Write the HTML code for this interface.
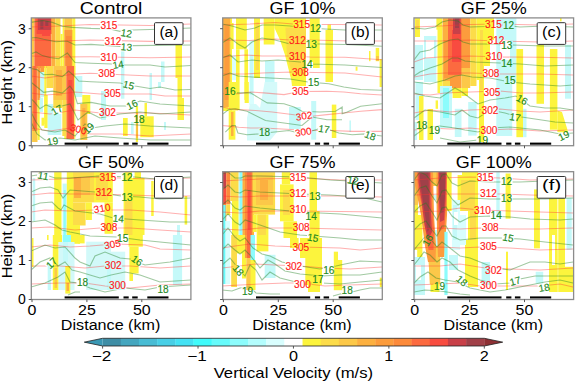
<!DOCTYPE html><html><head><meta charset="utf-8"><style>html,body{margin:0;padding:0;background:#fff;}svg{display:block;} text{font-family:"Liberation Sans", sans-serif;}</style></head><body>
<svg width="575" height="382" viewBox="0 0 575 382">
<rect x="0" y="0" width="575" height="382" fill="#fff"/>
<defs>
<filter id="fb" x="-5%" y="-5%" width="110%" height="110%"><feGaussianBlur stdDeviation="0.45"/></filter>
<clipPath id="cp0"><rect x="31.3" y="17.9" width="159.6" height="127.8"/></clipPath>
<clipPath id="cp1"><rect x="222.7" y="17.9" width="159.6" height="127.8"/></clipPath>
<clipPath id="cp2"><rect x="414.0" y="17.9" width="159.6" height="127.8"/></clipPath>
<clipPath id="cp3"><rect x="31.3" y="171.7" width="159.6" height="127.8"/></clipPath>
<clipPath id="cp4"><rect x="222.7" y="171.7" width="159.6" height="127.8"/></clipPath>
<clipPath id="cp5"><rect x="414.0" y="171.7" width="159.6" height="127.8"/></clipPath>
</defs>
<g clip-path="url(#cp0)">
<g filter="url(#fb)"><rect x="31.3" y="18.0" width="3.1" height="60.0" fill="#fcc848"/>
<rect x="31.3" y="78.0" width="1.5" height="64.0" fill="#fcf43c"/>
<rect x="34.4" y="18.0" width="16.9" height="50.0" fill="#fc6a40"/>
<rect x="36.5" y="18.0" width="15.5" height="16.0" fill="#f84c40"/>
<rect x="38.0" y="18.0" width="13.0" height="12.0" fill="#c84048"/>
<rect x="40.3" y="20.0" width="3.0" height="9.0" fill="#a04048"/>
<rect x="45.3" y="21.0" width="3.0" height="5.0" fill="#a04048"/>
<rect x="42.0" y="30.0" width="8.0" height="6.0" fill="#f84c40"/>
<rect x="51.3" y="18.0" width="4.0" height="48.0" fill="#fcb040"/>
<rect x="55.3" y="18.0" width="5.2" height="48.0" fill="#fcdc4a"/>
<rect x="60.5" y="34.0" width="2.1" height="32.0" fill="#fcf43c"/>
<rect x="62.6" y="18.0" width="1.7" height="48.0" fill="#fcf43c"/>
<rect x="64.3" y="18.0" width="8.0" height="12.0" fill="#fcc848"/>
<rect x="64.3" y="30.0" width="9.0" height="36.0" fill="#fc9c3c"/>
<rect x="66.0" y="36.0" width="5.5" height="30.0" fill="#fc8a3a"/>
<rect x="72.3" y="18.0" width="3.0" height="60.0" fill="#fcf43c"/>
<rect x="32.3" y="66.0" width="5.2" height="65.0" fill="#fc8a3a"/>
<rect x="33.5" y="66.0" width="2.7" height="62.0" fill="#fc6a40"/>
<rect x="32.3" y="131.0" width="5.2" height="11.0" fill="#fcc848"/>
<rect x="37.5" y="66.0" width="2.8" height="34.0" fill="#fc9c3c"/>
<rect x="37.5" y="100.0" width="2.2" height="40.0" fill="#fcf43c"/>
<rect x="40.3" y="66.0" width="4.0" height="6.0" fill="#fc9c3c"/>
<rect x="40.3" y="72.0" width="4.0" height="25.0" fill="#c4f9f9"/>
<rect x="39.7" y="97.7" width="3.3" height="14.3" fill="#c4f9f9"/>
<rect x="41.5" y="117.7" width="2.8" height="8.0" fill="#fcf43c"/>
<rect x="44.3" y="66.0" width="2.0" height="58.0" fill="#fcf43c"/>
<rect x="46.3" y="66.0" width="7.0" height="22.0" fill="#fcdc4a"/>
<rect x="48.3" y="88.0" width="5.0" height="16.0" fill="#ffffff"/>
<rect x="47.3" y="104.0" width="6.0" height="10.0" fill="#c4f9f9"/>
<rect x="53.3" y="66.0" width="13.0" height="34.0" fill="#fcc848"/>
<rect x="56.0" y="70.0" width="6.0" height="26.0" fill="#fcb040"/>
<rect x="53.3" y="100.0" width="9.0" height="8.0" fill="#fcdc4a"/>
<rect x="64.3" y="100.0" width="2.0" height="39.0" fill="#fcf43c"/>
<rect x="66.3" y="66.0" width="8.0" height="73.0" fill="#fc6a40"/>
<rect x="68.3" y="80.0" width="4.0" height="50.0" fill="#f84c40"/>
<rect x="74.3" y="66.0" width="1.0" height="73.0" fill="#fcf43c"/>
<rect x="75.3" y="76.0" width="7.0" height="21.0" fill="#c4f9f9"/>
<rect x="82.3" y="95.0" width="8.0" height="19.0" fill="#fcf43c"/>
<rect x="44.3" y="95.0" width="3.4" height="33.0" fill="#fcf43c"/>
<rect x="47.7" y="114.0" width="13.6" height="21.0" fill="#c4f9f9"/>
<rect x="47.7" y="105.7" width="4.6" height="8.3" fill="#c4f9f9"/>
<rect x="62.3" y="100.0" width="4.0" height="36.0" fill="#fcdc4a"/>
<rect x="80.3" y="104.0" width="7.0" height="36.0" fill="#fcc848"/>
<rect x="82.3" y="108.0" width="3.0" height="28.0" fill="#fcb040"/>
<rect x="175.5" y="45.0" width="6.5" height="33.0" fill="#fcf43c"/>
<rect x="177.5" y="78.0" width="4.5" height="20.0" fill="#fcf43c"/>
<rect x="177.5" y="98.0" width="6.5" height="22.0" fill="#fcf43c"/>
<rect x="140.3" y="116.3" width="13.4" height="20.9" fill="#fcf43c"/>
<rect x="144.5" y="103.0" width="2.5" height="13.3" fill="#fcf43c"/>
<rect x="135.8" y="106.0" width="2.3" height="36.0" fill="#fcf43c"/>
<rect x="136.3" y="113.0" width="1.5" height="25.0" fill="#fcb040"/>
<rect x="123.0" y="118.0" width="4.7" height="18.0" fill="#fcf43c"/>
<rect x="121.0" y="51.5" width="3.4" height="47.2" fill="#c4f9f9"/>
<rect x="149.5" y="73.0" width="2.5" height="27.0" fill="#c4f9f9"/>
<rect x="161.0" y="61.5" width="3.5" height="20.5" fill="#c4f9f9"/>
<rect x="158.0" y="82.0" width="3.0" height="6.0" fill="#c4f9f9"/>
<rect x="131.0" y="122.0" width="2.6" height="12.0" fill="#c4f9f9"/>
<rect x="164.0" y="122.0" width="2.0" height="8.0" fill="#c4f9f9"/>
<rect x="101.0" y="91.0" width="5.0" height="29.0" fill="#c4f9f9"/></g><mask id="ma" maskUnits="userSpaceOnUse" x="0" y="0" width="575" height="382"><rect x="0" y="0" width="575" height="382" fill="#fff"/><rect x="100.0" y="21.3" width="17.8" height="8.4" fill="#000"/><rect x="104.1" y="37.2" width="17.8" height="8.4" fill="#000"/><rect x="100.0" y="53.1" width="17.8" height="8.4" fill="#000"/><rect x="97.8" y="69.5" width="17.8" height="8.4" fill="#000"/><rect x="103.6" y="89.3" width="17.8" height="8.4" fill="#000"/><rect x="98.6" y="108.3" width="17.8" height="8.4" fill="#000"/><rect x="69.6" y="124.8" width="17.8" height="8.4" fill="#000" transform="rotate(15,78.5,129.0)"/><rect x="120.4" y="28.8" width="12.2" height="8.4" fill="#000" transform="rotate(10,126.5,33.0)"/><rect x="120.4" y="42.6" width="12.2" height="8.4" fill="#000" transform="rotate(5,126.5,46.8)"/><rect x="112.0" y="60.2" width="12.2" height="8.4" fill="#000" transform="rotate(-10,118.1,64.5)"/><rect x="122.5" y="80.8" width="12.2" height="8.4" fill="#000" transform="rotate(15,128.6,85.0)"/><rect x="125.9" y="100.3" width="12.2" height="8.4" fill="#000" transform="rotate(-25,132.0,104.5)"/><rect x="50.7" y="105.6" width="12.2" height="8.4" fill="#000" transform="rotate(-30,56.8,109.8)"/><rect x="132.9" y="114.8" width="12.2" height="8.4" fill="#000"/><rect x="46.4" y="136.8" width="12.2" height="8.4" fill="#000" transform="rotate(-10,52.5,141.0)"/><rect x="82.4" y="123.9" width="12.2" height="8.4" fill="#000" transform="rotate(-45,88.5,128.1)"/></mask><g mask="url(#ma)"><path d="M31.0,27.0 L60.0,26.0 L90.0,24.5 L150.0,25.5 L191.0,24.0" fill="none" stroke="#ff3030" stroke-opacity="0.38" stroke-width="1.1"/>
<path d="M31.0,40.0 L60.0,41.0 L90.0,40.0 L150.0,41.4 L191.0,41.0" fill="none" stroke="#ff3030" stroke-opacity="0.38" stroke-width="1.1"/>
<path d="M31.0,56.0 L60.0,57.0 L90.0,56.8 L150.0,57.7 L191.0,57.0" fill="none" stroke="#ff3030" stroke-opacity="0.38" stroke-width="1.1"/>
<path d="M31.0,76.0 L45.0,78.0 L60.0,76.0 L75.0,74.0 L90.0,73.2 L150.0,76.0 L165.0,76.0 L191.0,76.0" fill="none" stroke="#ff3030" stroke-opacity="0.38" stroke-width="1.1"/>
<path d="M31.0,93.0 L45.0,95.0 L60.0,94.0 L75.0,92.0 L100.0,94.0 L150.0,94.0 L165.0,96.0 L191.0,96.0" fill="none" stroke="#ff3030" stroke-opacity="0.38" stroke-width="1.1"/>
<path d="M31.0,112.0 L50.0,114.0 L75.0,110.0 L100.0,113.0 L150.0,113.0 L191.0,115.0" fill="none" stroke="#ff3030" stroke-opacity="0.38" stroke-width="1.1"/>
<path d="M31.0,128.0 L50.0,131.0 L70.0,128.0 L90.0,134.0 L120.0,134.0 L150.0,136.0 L191.0,134.0" fill="none" stroke="#ff3030" stroke-opacity="0.38" stroke-width="1.1"/>
<path d="M31.0,22.4 L38.5,21.1 L43.5,20.5 L52.3,22.4 L62.4,26.2 L72.4,27.4 L91.0,28.4 L110.0,29.0 L120.0,31.4 L133.0,30.0 L150.0,29.5 L191.0,28.0" fill="none" stroke="#1f7f1f" stroke-opacity="0.42" stroke-width="1.1"/>
<path d="M31.0,38.0 L36.0,37.5 L43.5,39.3 L56.0,41.8 L62.4,41.2 L67.4,41.2 L75.0,45.0 L91.0,44.4 L120.0,46.5 L133.0,45.6 L191.0,45.0" fill="none" stroke="#1f7f1f" stroke-opacity="0.42" stroke-width="1.1"/>
<path d="M31.0,53.8 L36.0,51.9 L42.3,55.6 L49.8,57.5 L58.6,58.8 L67.4,53.1 L75.0,62.5 L91.0,63.2 L112.0,64.0 L124.0,64.9 L150.0,65.0 L165.0,67.0 L191.0,65.5" fill="none" stroke="#1f7f1f" stroke-opacity="0.42" stroke-width="1.1"/>
<path d="M31.0,68.5 L37.3,69.8 L43.5,74.8 L52.3,74.2 L62.4,76.7 L68.6,71.0 L74.3,76.0 L78.7,81.0 L91.0,81.7 L120.0,83.0 L135.0,86.0 L150.0,88.5 L160.0,87.0 L175.0,90.0 L191.0,89.5" fill="none" stroke="#1f7f1f" stroke-opacity="0.42" stroke-width="1.1"/>
<path d="M31.0,82.3 L37.3,87.3 L43.5,92.3 L52.3,91.1 L62.4,93.0 L69.9,86.1 L73.7,91.1 L77.4,103.6 L91.0,102.4 L110.0,106.0 L127.0,106.0 L140.0,101.0 L160.0,104.0 L191.0,106.0" fill="none" stroke="#1f7f1f" stroke-opacity="0.42" stroke-width="1.1"/>
<path d="M31.0,98.6 L34.8,102.4 L39.8,108.7 L46.0,104.9 L52.3,107.4 L62.0,106.0 L70.0,104.0 L78.0,120.0 L88.0,112.0 L100.0,118.0 L120.0,114.0 L140.0,112.0 L160.0,114.0 L191.0,112.0" fill="none" stroke="#1f7f1f" stroke-opacity="0.42" stroke-width="1.1"/>
<path d="M31.0,112.0 L36.0,122.0 L42.0,130.0 L55.0,132.0 L65.0,130.0 L75.0,136.0 L85.0,124.0 L92.0,128.0 L105.0,126.0 L125.0,124.0 L150.0,126.0 L191.0,128.0" fill="none" stroke="#1f7f1f" stroke-opacity="0.42" stroke-width="1.1"/>
<path d="M31.0,122.0 L37.0,134.0 L45.0,140.0 L60.0,138.0 L75.0,140.0 L95.0,136.0 L120.0,138.0 L150.0,140.0 L191.0,140.0" fill="none" stroke="#1f7f1f" stroke-opacity="0.42" stroke-width="1.1"/></g><text x="108.9" y="29.2" font-size="10" text-anchor="middle" textLength="16.8" lengthAdjust="spacingAndGlyphs" fill="#ff1a1a" stroke="#ff1a1a" stroke-width="0.15">315</text>
<text x="113.0" y="45.1" font-size="10" text-anchor="middle" textLength="16.8" lengthAdjust="spacingAndGlyphs" fill="#ff1a1a" stroke="#ff1a1a" stroke-width="0.15">312</text>
<text x="108.9" y="61.1" font-size="10" text-anchor="middle" textLength="16.8" lengthAdjust="spacingAndGlyphs" fill="#ff1a1a" stroke="#ff1a1a" stroke-width="0.15">310</text>
<text x="106.7" y="77.4" font-size="10" text-anchor="middle" textLength="16.8" lengthAdjust="spacingAndGlyphs" fill="#ff1a1a" stroke="#ff1a1a" stroke-width="0.15">308</text>
<text x="112.5" y="97.2" font-size="10" text-anchor="middle" textLength="16.8" lengthAdjust="spacingAndGlyphs" fill="#ff1a1a" stroke="#ff1a1a" stroke-width="0.15">305</text>
<text x="107.5" y="116.2" font-size="10" text-anchor="middle" textLength="16.8" lengthAdjust="spacingAndGlyphs" fill="#ff1a1a" stroke="#ff1a1a" stroke-width="0.15">302</text>
<text x="78.5" y="132.7" font-size="10" text-anchor="middle" textLength="16.8" lengthAdjust="spacingAndGlyphs" fill="#ff1a1a" stroke="#ff1a1a" stroke-width="0.15" transform="rotate(15,78.5,129.0)">300</text>
<text x="126.5" y="36.8" font-size="10" text-anchor="middle" textLength="11.2" lengthAdjust="spacingAndGlyphs" fill="#1f8a1f" stroke="#1f8a1f" stroke-width="0.15" transform="rotate(10,126.5,33.0)">12</text>
<text x="126.5" y="50.5" font-size="10" text-anchor="middle" textLength="11.2" lengthAdjust="spacingAndGlyphs" fill="#1f8a1f" stroke="#1f8a1f" stroke-width="0.15" transform="rotate(5,126.5,46.8)">13</text>
<text x="118.1" y="68.2" font-size="10" text-anchor="middle" textLength="11.2" lengthAdjust="spacingAndGlyphs" fill="#1f8a1f" stroke="#1f8a1f" stroke-width="0.15" transform="rotate(-10,118.1,64.5)">14</text>
<text x="128.6" y="88.7" font-size="10" text-anchor="middle" textLength="11.2" lengthAdjust="spacingAndGlyphs" fill="#1f8a1f" stroke="#1f8a1f" stroke-width="0.15" transform="rotate(15,128.6,85.0)">15</text>
<text x="132.0" y="108.2" font-size="10" text-anchor="middle" textLength="11.2" lengthAdjust="spacingAndGlyphs" fill="#1f8a1f" stroke="#1f8a1f" stroke-width="0.15" transform="rotate(-25,132.0,104.5)">16</text>
<text x="56.8" y="113.5" font-size="10" text-anchor="middle" textLength="11.2" lengthAdjust="spacingAndGlyphs" fill="#1f8a1f" stroke="#1f8a1f" stroke-width="0.15" transform="rotate(-30,56.8,109.8)">17</text>
<text x="139.0" y="122.7" font-size="10" text-anchor="middle" textLength="11.2" lengthAdjust="spacingAndGlyphs" fill="#1f8a1f" stroke="#1f8a1f" stroke-width="0.15">18</text>
<text x="52.5" y="144.7" font-size="10" text-anchor="middle" textLength="11.2" lengthAdjust="spacingAndGlyphs" fill="#1f8a1f" stroke="#1f8a1f" stroke-width="0.15" transform="rotate(-10,52.5,141.0)">19</text>
<text x="88.5" y="131.8" font-size="10" text-anchor="middle" textLength="11.2" lengthAdjust="spacingAndGlyphs" fill="#1f8a1f" stroke="#1f8a1f" stroke-width="0.15" transform="rotate(-45,88.5,128.1)">19</text>
</g>
<g transform="translate(31.3,17.9)">
<rect x="33.3" y="124.7" width="54.2" height="2.1" fill="#000"/>
<rect x="92.2" y="124.7" width="5.2" height="2.1" fill="#000"/>
<rect x="100.9" y="124.7" width="5.5" height="2.1" fill="#000"/>
<rect x="116.0" y="124.7" width="21.2" height="2.1" fill="#000"/>
<rect x="123.2" y="4.8" width="28.5" height="21.7" rx="1" fill="#fff" stroke="#333" stroke-width="1"/>
<text x="137.6" y="18.7" font-size="14" text-anchor="middle" textLength="19" lengthAdjust="spacingAndGlyphs" fill="#000">(a)</text>
<rect x="0" y="0" width="159.6" height="127.8" fill="none" stroke="#8c8c8c" stroke-width="1.3"/>
<line x1="0.70" y1="127.8" x2="0.70" y2="130.4" stroke="#444" stroke-width="0.9"/>
<line x1="55.60" y1="127.8" x2="55.60" y2="130.4" stroke="#444" stroke-width="0.9"/>
<line x1="110.50" y1="127.8" x2="110.50" y2="130.4" stroke="#444" stroke-width="0.9"/>
<line x1="0" y1="127.80" x2="-2.6" y2="127.80" stroke="#444" stroke-width="0.9"/>
<line x1="0" y1="88.80" x2="-2.6" y2="88.80" stroke="#444" stroke-width="0.9"/>
<line x1="0" y1="49.80" x2="-2.6" y2="49.80" stroke="#444" stroke-width="0.9"/>
<line x1="0" y1="10.80" x2="-2.6" y2="10.80" stroke="#444" stroke-width="0.9"/>
<text x="79.8" y="-3.6" font-size="17.2" text-anchor="middle" textLength="62.5" lengthAdjust="spacingAndGlyphs" fill="#000">Control</text>
<text x="-9.5" y="132.80" font-size="14" text-anchor="middle" fill="#000">0</text>
<text x="-9.5" y="93.80" font-size="14" text-anchor="middle" fill="#000">1</text>
<text x="-9.5" y="54.80" font-size="14" text-anchor="middle" fill="#000">2</text>
<text x="-9.5" y="15.80" font-size="14" text-anchor="middle" fill="#000">3</text>
</g>
<g clip-path="url(#cp1)">
<g filter="url(#fb)"><rect x="222.7" y="18.0" width="8.1" height="89.0" fill="#fcb040"/>
<rect x="224.5" y="26.0" width="4.5" height="74.0" fill="#fc9c3c"/>
<rect x="222.7" y="107.0" width="6.0" height="4.0" fill="#fcf43c"/>
<rect x="230.4" y="18.0" width="1.6" height="93.0" fill="#fcf43c"/>
<rect x="232.0" y="23.0" width="1.6" height="26.0" fill="#fcf43c"/>
<rect x="236.0" y="18.0" width="10.8" height="31.3" fill="#fcf43c"/>
<rect x="236.0" y="49.3" width="3.6" height="60.7" fill="#fcf43c"/>
<rect x="244.4" y="49.3" width="3.6" height="50.7" fill="#fcf43c"/>
<rect x="232.0" y="55.0" width="4.0" height="25.0" fill="#d9fefe"/>
<rect x="249.3" y="40.0" width="4.7" height="65.0" fill="#d9fefe"/>
<rect x="250.0" y="55.0" width="3.0" height="40.0" fill="#c4f9f9"/>
<rect x="228.7" y="82.0" width="9.2" height="28.5" fill="#fcf43c"/>
<rect x="228.7" y="110.5" width="6.7" height="29.2" fill="#fcf43c"/>
<rect x="231.0" y="112.0" width="2.5" height="24.0" fill="#fcb040"/>
<rect x="254.0" y="18.0" width="6.0" height="60.0" fill="#fcf43c"/>
<rect x="255.5" y="22.0" width="3.5" height="48.0" fill="#fcdc4a"/>
<rect x="263.7" y="18.0" width="10.8" height="26.5" fill="#fcf43c"/>
<rect x="265.0" y="61.0" width="9.5" height="21.0" fill="#c4f9f9"/>
<polygon points="274.5,18 306,18 306,86 292,86 291.4,80.7 285,55 280,40 274.5,28" fill="#fcf43c"/>
<polygon points="285.4,27.6 306,27.6 306,73.4 292,73.4 287,55" fill="#fcdc4a"/>
<rect x="292.0" y="82.0" width="13.0" height="4.0" fill="#fcf43c"/>
<rect x="309.6" y="18.0" width="10.1" height="44.0" fill="#fcf43c"/>
<rect x="313.0" y="62.0" width="6.7" height="6.0" fill="#fcf43c"/>
<rect x="325.5" y="30.0" width="7.5" height="52.0" fill="#fcf43c"/>
<rect x="327.5" y="24.7" width="3.5" height="5.3" fill="#fcf43c"/>
<rect x="355.6" y="66.7" width="1.9" height="4.0" fill="#fcf43c"/>
<rect x="369.0" y="51.0" width="1.5" height="10.2" fill="#fcf43c"/>
<rect x="375.7" y="47.9" width="3.5" height="13.3" fill="#fcf43c"/>
<rect x="376.0" y="56.0" width="3.0" height="5.0" fill="#fcc848"/>
<rect x="379.6" y="59.0" width="2.7" height="28.0" fill="#fcf43c"/>
<rect x="244.6" y="82.0" width="4.2" height="21.0" fill="#fcf43c"/>
<polygon points="247,140.6 247,118 250,104 256,104 260,108 264.7,82 277.2,82 277.2,132 270,140.6" fill="#d4fafa"/>
<rect x="289.0" y="107.0" width="11.7" height="22.0" fill="#c4f9f9"/>
<rect x="311.2" y="101.0" width="5.0" height="38.7" fill="#c4f9f9"/>
<rect x="349.4" y="120.5" width="1.6" height="11.5" fill="#c4f9f9"/>
<rect x="331.8" y="104.6" width="4.5" height="33.4" fill="#fcf43c"/></g><mask id="mb" maskUnits="userSpaceOnUse" x="0" y="0" width="575" height="382"><rect x="0" y="0" width="575" height="382" fill="#fff"/><rect x="292.8" y="20.4" width="17.8" height="8.4" fill="#000"/><rect x="288.6" y="36.4" width="17.8" height="8.4" fill="#000"/><rect x="288.6" y="52.2" width="17.8" height="8.4" fill="#000"/><rect x="291.5" y="68.1" width="17.8" height="8.4" fill="#000"/><rect x="291.6" y="86.5" width="17.8" height="8.4" fill="#000"/><rect x="295.1" y="111.6" width="17.8" height="8.4" fill="#000" transform="rotate(-8,304.0,115.8)"/><rect x="294.4" y="127.6" width="17.8" height="8.4" fill="#000" transform="rotate(-8,303.2,131.8)"/><rect x="309.4" y="23.8" width="12.2" height="8.4" fill="#000"/><rect x="305.2" y="39.8" width="12.2" height="8.4" fill="#000"/><rect x="300.9" y="59.9" width="12.2" height="8.4" fill="#000"/><rect x="307.6" y="77.7" width="12.2" height="8.4" fill="#000"/><rect x="223.8" y="87.5" width="12.2" height="8.4" fill="#000"/><rect x="318.0" y="124.6" width="12.2" height="8.4" fill="#000" transform="rotate(8,324.1,128.8)"/><rect x="258.5" y="128.5" width="12.2" height="8.4" fill="#000"/><rect x="364.1" y="131.4" width="12.2" height="8.4" fill="#000" transform="rotate(20,370.2,135.6)"/></mask><g mask="url(#mb)"><path d="M222.0,25.0 L250.0,24.0 L275.0,22.5 L293.0,24.0 L310.0,24.5 L340.0,24.5 L382.0,25.0" fill="none" stroke="#ff3030" stroke-opacity="0.38" stroke-width="1.1"/>
<path d="M222.0,40.0 L250.0,40.5 L275.0,39.0 L290.0,40.0 L310.0,40.0 L350.0,41.0 L382.0,41.0" fill="none" stroke="#ff3030" stroke-opacity="0.38" stroke-width="1.1"/>
<path d="M222.0,57.0 L245.0,55.0 L262.0,56.0 L290.0,56.0 L310.0,57.0 L345.0,57.3 L382.0,59.7" fill="none" stroke="#ff3030" stroke-opacity="0.38" stroke-width="1.1"/>
<path d="M222.0,74.0 L245.0,74.0 L262.0,73.0 L292.0,72.0 L315.0,72.5 L345.0,73.0 L382.0,77.0" fill="none" stroke="#ff3030" stroke-opacity="0.38" stroke-width="1.1"/>
<path d="M222.0,93.7 L238.7,93.7 L250.5,92.0 L263.8,92.9 L284.0,94.6 L300.0,91.5 L327.0,91.2 L343.8,92.0 L360.6,93.7 L382.0,95.0" fill="none" stroke="#ff3030" stroke-opacity="0.38" stroke-width="1.1"/>
<path d="M222.0,107.0 L230.4,108.8 L238.7,109.6 L255.5,110.5 L272.2,112.0 L300.0,115.5 L312.0,116.3 L327.0,114.6 L343.8,113.0 L360.6,111.3 L382.0,109.6" fill="none" stroke="#ff3030" stroke-opacity="0.38" stroke-width="1.1"/>
<path d="M222.0,125.5 L232.0,126.4 L238.7,127.2 L250.5,128.0 L263.8,128.0 L295.6,129.7 L311.2,130.5 L332.0,130.5 L352.2,131.4 L382.0,131.4" fill="none" stroke="#ff3030" stroke-opacity="0.38" stroke-width="1.1"/>
<path d="M222.0,24.0 L232.0,26.0 L245.0,30.0 L255.0,28.0 L262.0,25.0 L275.0,25.0 L290.0,26.0 L310.0,28.0 L325.0,29.0 L345.0,30.0 L382.0,30.0" fill="none" stroke="#1f7f1f" stroke-opacity="0.42" stroke-width="1.1"/>
<path d="M222.0,43.0 L230.0,38.0 L238.0,44.0 L245.0,48.0 L252.0,42.0 L262.0,38.0 L275.0,40.0 L290.0,44.0 L306.0,44.0 L320.0,44.0 L345.0,44.5 L382.0,46.3" fill="none" stroke="#1f7f1f" stroke-opacity="0.42" stroke-width="1.1"/>
<path d="M222.0,58.0 L230.0,55.0 L238.0,62.0 L252.0,60.0 L262.0,61.0 L278.0,60.0 L300.0,62.0 L312.0,64.0 L345.0,65.0 L382.0,67.5" fill="none" stroke="#1f7f1f" stroke-opacity="0.42" stroke-width="1.1"/>
<path d="M222.0,76.0 L230.0,73.0 L238.0,76.0 L252.0,77.0 L270.0,78.0 L290.0,79.0 L308.0,82.0 L328.8,83.7 L343.8,87.0 L360.6,89.5 L382.0,90.3" fill="none" stroke="#1f7f1f" stroke-opacity="0.42" stroke-width="1.1"/>
<path d="M237.0,92.9 L250.5,92.9 L258.8,97.9 L267.2,102.9 L284.0,103.8 L294.0,107.0 L302.0,111.3 L320.0,112.0 L335.5,111.3 L342.2,107.0 L342.2,113.8 L347.2,112.0 L360.6,106.3 L382.0,103.8" fill="none" stroke="#1f7f1f" stroke-opacity="0.42" stroke-width="1.1"/>
<path d="M222.0,114.6 L228.7,109.6 L235.4,108.8 L247.0,111.3 L255.5,115.5 L265.5,120.5 L284.0,123.0 L302.0,125.5 L312.0,117.0 L327.0,119.7 L342.0,119.7" fill="none" stroke="#1f7f1f" stroke-opacity="0.42" stroke-width="1.1"/>
<path d="M225.3,132.2 L232.0,125.5 L235.4,125.5 L237.9,133.0 L247.0,134.7 L258.8,133.9 L272.2,132.2 L289.0,130.5 L302.0,134.0 L318.0,129.0 L329.6,129.7 L338.8,133.0 L352.2,134.7 L365.6,133.9 L382.0,136.0" fill="none" stroke="#1f7f1f" stroke-opacity="0.42" stroke-width="1.1"/></g><text x="301.6" y="28.3" font-size="10" text-anchor="middle" textLength="16.8" lengthAdjust="spacingAndGlyphs" fill="#ff1a1a" stroke="#ff1a1a" stroke-width="0.15">315</text>
<text x="297.4" y="44.3" font-size="10" text-anchor="middle" textLength="16.8" lengthAdjust="spacingAndGlyphs" fill="#ff1a1a" stroke="#ff1a1a" stroke-width="0.15">312</text>
<text x="297.4" y="60.1" font-size="10" text-anchor="middle" textLength="16.8" lengthAdjust="spacingAndGlyphs" fill="#ff1a1a" stroke="#ff1a1a" stroke-width="0.15">310</text>
<text x="300.4" y="76.0" font-size="10" text-anchor="middle" textLength="16.8" lengthAdjust="spacingAndGlyphs" fill="#ff1a1a" stroke="#ff1a1a" stroke-width="0.15">308</text>
<text x="300.5" y="94.5" font-size="10" text-anchor="middle" textLength="16.8" lengthAdjust="spacingAndGlyphs" fill="#ff1a1a" stroke="#ff1a1a" stroke-width="0.15">305</text>
<text x="304.0" y="119.5" font-size="10" text-anchor="middle" textLength="16.8" lengthAdjust="spacingAndGlyphs" fill="#ff1a1a" stroke="#ff1a1a" stroke-width="0.15" transform="rotate(-8,304.0,115.8)">302</text>
<text x="303.2" y="135.5" font-size="10" text-anchor="middle" textLength="16.8" lengthAdjust="spacingAndGlyphs" fill="#ff1a1a" stroke="#ff1a1a" stroke-width="0.15" transform="rotate(-8,303.2,131.8)">300</text>
<text x="315.5" y="31.7" font-size="10" text-anchor="middle" textLength="11.2" lengthAdjust="spacingAndGlyphs" fill="#1f8a1f" stroke="#1f8a1f" stroke-width="0.15">12</text>
<text x="311.3" y="47.7" font-size="10" text-anchor="middle" textLength="11.2" lengthAdjust="spacingAndGlyphs" fill="#1f8a1f" stroke="#1f8a1f" stroke-width="0.15">13</text>
<text x="307.0" y="67.8" font-size="10" text-anchor="middle" textLength="11.2" lengthAdjust="spacingAndGlyphs" fill="#1f8a1f" stroke="#1f8a1f" stroke-width="0.15">14</text>
<text x="313.7" y="85.6" font-size="10" text-anchor="middle" textLength="11.2" lengthAdjust="spacingAndGlyphs" fill="#1f8a1f" stroke="#1f8a1f" stroke-width="0.15">15</text>
<text x="229.9" y="95.4" font-size="10" text-anchor="middle" textLength="11.2" lengthAdjust="spacingAndGlyphs" fill="#1f8a1f" stroke="#1f8a1f" stroke-width="0.15">16</text>
<text x="324.1" y="132.5" font-size="10" text-anchor="middle" textLength="11.2" lengthAdjust="spacingAndGlyphs" fill="#1f8a1f" stroke="#1f8a1f" stroke-width="0.15" transform="rotate(8,324.1,128.8)">17</text>
<text x="264.6" y="136.3" font-size="10" text-anchor="middle" textLength="11.2" lengthAdjust="spacingAndGlyphs" fill="#1f8a1f" stroke="#1f8a1f" stroke-width="0.15">18</text>
<text x="370.2" y="139.2" font-size="10" text-anchor="middle" textLength="11.2" lengthAdjust="spacingAndGlyphs" fill="#1f8a1f" stroke="#1f8a1f" stroke-width="0.15" transform="rotate(20,370.2,135.6)">18</text>
</g>
<g transform="translate(222.7,17.9)">
<rect x="33.3" y="124.7" width="54.2" height="2.1" fill="#000"/>
<rect x="92.2" y="124.7" width="5.2" height="2.1" fill="#000"/>
<rect x="100.9" y="124.7" width="5.5" height="2.1" fill="#000"/>
<rect x="116.0" y="124.7" width="21.2" height="2.1" fill="#000"/>
<rect x="123.2" y="4.8" width="28.5" height="21.7" rx="1" fill="#fff" stroke="#333" stroke-width="1"/>
<text x="137.6" y="18.7" font-size="14" text-anchor="middle" textLength="19" lengthAdjust="spacingAndGlyphs" fill="#000">(b)</text>
<rect x="0" y="0" width="159.6" height="127.8" fill="none" stroke="#8c8c8c" stroke-width="1.3"/>
<line x1="0.70" y1="127.8" x2="0.70" y2="130.4" stroke="#444" stroke-width="0.9"/>
<line x1="55.60" y1="127.8" x2="55.60" y2="130.4" stroke="#444" stroke-width="0.9"/>
<line x1="110.50" y1="127.8" x2="110.50" y2="130.4" stroke="#444" stroke-width="0.9"/>
<line x1="0" y1="127.80" x2="-2.6" y2="127.80" stroke="#444" stroke-width="0.9"/>
<line x1="0" y1="88.80" x2="-2.6" y2="88.80" stroke="#444" stroke-width="0.9"/>
<line x1="0" y1="49.80" x2="-2.6" y2="49.80" stroke="#444" stroke-width="0.9"/>
<line x1="0" y1="10.80" x2="-2.6" y2="10.80" stroke="#444" stroke-width="0.9"/>
<text x="79.8" y="-3.6" font-size="17.2" text-anchor="middle" textLength="66" lengthAdjust="spacingAndGlyphs" fill="#000">GF 10%</text>
</g>
<g clip-path="url(#cp2)">
<g filter="url(#fb)"><rect x="415.0" y="18.0" width="5.0" height="19.0" fill="#fcf43c"/>
<rect x="416.0" y="20.0" width="3.0" height="10.0" fill="#fcdc4a"/>
<rect x="415.0" y="45.0" width="8.0" height="35.0" fill="#c4f9f9"/>
<rect x="424.0" y="36.0" width="12.4" height="46.0" fill="#c4f9f9"/>
<rect x="426.0" y="40.0" width="8.0" height="18.0" fill="#ffffff"/>
<rect x="415.5" y="82.0" width="7.5" height="38.0" fill="#c4f9f9"/>
<rect x="414.0" y="122.0" width="3.0" height="18.0" fill="#c4f9f9"/>
<rect x="436.4" y="18.0" width="5.9" height="11.7" fill="#fcf43c"/>
<rect x="437.5" y="26.0" width="5.1" height="67.0" fill="#fcf43c"/>
<rect x="442.6" y="18.0" width="10.0" height="63.0" fill="#fcb040"/>
<rect x="444.0" y="40.0" width="7.0" height="38.0" fill="#fc9c3c"/>
<rect x="442.6" y="81.0" width="10.0" height="12.0" fill="#fcdc4a"/>
<rect x="448.0" y="18.0" width="14.4" height="57.0" fill="#fc6a40"/>
<rect x="452.0" y="30.0" width="9.4" height="32.0" fill="#f84c40"/>
<rect x="453.0" y="18.0" width="7.5" height="16.0" fill="#c84048"/>
<rect x="455.0" y="18.0" width="4.0" height="10.0" fill="#a04048"/>
<rect x="450.0" y="75.0" width="11.4" height="13.0" fill="#fc9c3c"/>
<rect x="452.6" y="88.0" width="8.8" height="10.0" fill="#fcf43c"/>
<rect x="461.4" y="18.0" width="8.8" height="50.0" fill="#fc9c3c"/>
<rect x="461.4" y="68.0" width="8.8" height="20.0" fill="#fcc848"/>
<rect x="461.4" y="88.0" width="6.6" height="8.0" fill="#fcf43c"/>
<rect x="470.2" y="18.0" width="6.3" height="68.0" fill="#fcdc4a"/>
<rect x="476.5" y="18.0" width="2.5" height="62.0" fill="#fcf43c"/>
<rect x="479.0" y="18.0" width="5.0" height="124.0" fill="#fcf43c"/>
<rect x="480.0" y="30.0" width="3.0" height="60.0" fill="#fcdc4a"/>
<rect x="484.0" y="18.0" width="6.0" height="48.0" fill="#fcf43c"/>
<rect x="490.0" y="18.0" width="4.0" height="22.0" fill="#fcf43c"/>
<rect x="440.0" y="86.0" width="12.0" height="42.0" fill="#c4f9f9"/>
<rect x="443.0" y="88.0" width="6.0" height="30.0" fill="#8cfcfc"/>
<rect x="419.0" y="96.0" width="4.5" height="44.0" fill="#fcf43c"/>
<rect x="427.5" y="109.0" width="5.5" height="31.0" fill="#fcf43c"/>
<rect x="435.6" y="100.4" width="2.4" height="8.4" fill="#fcf43c"/>
<rect x="454.8" y="108.8" width="6.7" height="28.2" fill="#c4f9f9"/>
<rect x="468.2" y="102.0" width="8.4" height="33.6" fill="#c4f9f9"/>
<rect x="496.3" y="18.0" width="20.1" height="64.0" fill="#c4f9f9"/>
<rect x="500.0" y="40.0" width="10.0" height="20.0" fill="#ffffff"/>
<rect x="496.3" y="82.0" width="15.9" height="54.0" fill="#c4f9f9"/>
<rect x="516.4" y="49.0" width="6.7" height="88.2" fill="#fcf43c"/>
<rect x="523.1" y="108.8" width="3.4" height="28.4" fill="#c4f9f9"/>
<rect x="536.5" y="44.8" width="7.5" height="59.0" fill="#fcf43c"/>
<rect x="549.9" y="49.0" width="7.5" height="80.7" fill="#fcf43c"/>
<polygon points="557.4,110.5 562,112 566,125 568.3,132.2 557.4,132.2" fill="#fcf43c"/>
<rect x="560.0" y="18.0" width="1.6" height="3.3" fill="#fcf43c"/>
<rect x="565.0" y="44.8" width="6.0" height="53.9" fill="#c4f9f9"/></g><mask id="mc" maskUnits="userSpaceOnUse" x="0" y="0" width="575" height="382"><rect x="0" y="0" width="575" height="382" fill="#fff"/><rect x="484.6" y="20.4" width="17.8" height="8.4" fill="#000"/><rect x="487.1" y="36.0" width="17.8" height="8.4" fill="#000"/><rect x="485.1" y="52.2" width="17.8" height="8.4" fill="#000"/><rect x="482.1" y="68.8" width="17.8" height="8.4" fill="#000"/><rect x="483.1" y="88.3" width="17.8" height="8.4" fill="#000"/><rect x="481.1" y="106.3" width="17.8" height="8.4" fill="#000"/><rect x="480.1" y="125.8" width="17.8" height="8.4" fill="#000"/><rect x="502.4" y="21.3" width="12.2" height="8.4" fill="#000"/><rect x="500.7" y="41.0" width="12.2" height="8.4" fill="#000"/><rect x="500.7" y="58.5" width="12.2" height="8.4" fill="#000"/><rect x="504.0" y="76.0" width="12.2" height="8.4" fill="#000"/><rect x="516.1" y="95.4" width="12.2" height="8.4" fill="#000" transform="rotate(30,522.2,99.6)"/><rect x="509.0" y="113.0" width="12.2" height="8.4" fill="#000" transform="rotate(10,515.1,117.2)"/><rect x="415.6" y="120.9" width="12.2" height="8.4" fill="#000"/><rect x="428.2" y="126.4" width="12.2" height="8.4" fill="#000"/><rect x="476.3" y="136.1" width="12.2" height="8.4" fill="#000"/><rect x="557.6" y="131.4" width="12.2" height="8.4" fill="#000" transform="rotate(-25,563.8,135.6)"/></mask><g mask="url(#mc)"><path d="M414.0,27.0 L440.0,26.0 L470.0,24.5 L500.0,24.0 L540.0,25.0 L573.0,24.0" fill="none" stroke="#ff3030" stroke-opacity="0.38" stroke-width="1.1"/>
<path d="M414.0,41.0 L440.0,41.0 L470.0,40.0 L500.0,41.0 L540.0,42.0 L573.0,41.0" fill="none" stroke="#ff3030" stroke-opacity="0.38" stroke-width="1.1"/>
<path d="M414.0,62.0 L425.0,58.0 L440.0,57.0 L470.0,56.0 L500.0,57.0 L540.0,57.3 L573.0,58.0" fill="none" stroke="#ff3030" stroke-opacity="0.38" stroke-width="1.1"/>
<path d="M414.0,77.0 L430.0,74.0 L445.0,73.0 L470.0,73.0 L500.0,74.0 L540.0,74.0 L573.0,75.0" fill="none" stroke="#ff3030" stroke-opacity="0.38" stroke-width="1.1"/>
<path d="M414.0,94.0 L430.0,95.0 L445.0,93.0 L470.0,92.0 L500.0,91.0 L520.0,93.0 L540.0,93.0 L573.0,92.0" fill="none" stroke="#ff3030" stroke-opacity="0.38" stroke-width="1.1"/>
<path d="M414.0,113.0 L430.0,110.0 L450.0,112.0 L470.0,110.0 L500.0,109.0 L520.0,111.0 L540.0,112.0 L573.0,110.0" fill="none" stroke="#ff3030" stroke-opacity="0.38" stroke-width="1.1"/>
<path d="M414.0,130.0 L430.0,128.0 L450.0,129.0 L470.0,128.0 L490.0,130.0 L510.0,129.0 L540.0,131.0 L573.0,130.0" fill="none" stroke="#ff3030" stroke-opacity="0.38" stroke-width="1.1"/>
<path d="M414.0,28.0 L425.0,29.0 L435.0,27.0 L442.0,22.0 L450.0,20.0 L458.0,21.0 L463.0,25.0 L470.0,27.0 L485.0,26.5 L503.0,25.0 L520.0,27.0 L545.0,26.0 L573.0,27.0" fill="none" stroke="#1f7f1f" stroke-opacity="0.42" stroke-width="1.1"/>
<path d="M414.0,60.0 L420.0,52.0 L430.0,50.0 L440.0,44.0 L450.0,40.0 L458.0,39.0 L463.0,42.0 L470.0,44.0 L485.0,44.0 L512.0,45.0 L545.0,46.0 L573.0,46.0" fill="none" stroke="#1f7f1f" stroke-opacity="0.42" stroke-width="1.1"/>
<path d="M414.0,76.0 L420.0,72.0 L430.0,68.0 L442.0,64.0 L452.0,58.0 L458.0,58.0 L465.0,61.0 L475.0,62.0 L500.0,63.0 L520.0,64.0 L545.0,66.0 L573.0,65.0" fill="none" stroke="#1f7f1f" stroke-opacity="0.42" stroke-width="1.1"/>
<path d="M414.0,82.0 L430.0,84.0 L445.0,80.0 L455.0,76.0 L462.0,75.0 L472.0,77.0 L490.0,78.0 L510.0,82.0 L530.0,84.0 L560.0,86.0 L573.0,85.0" fill="none" stroke="#1f7f1f" stroke-opacity="0.42" stroke-width="1.1"/>
<path d="M414.0,93.0 L425.0,96.0 L440.0,98.0 L455.0,88.0 L462.0,92.0 L470.0,98.0 L478.0,104.0 L490.0,100.0 L505.0,98.0 L516.0,96.0 L530.0,106.0 L545.0,108.0 L560.0,108.0 L573.0,110.0" fill="none" stroke="#1f7f1f" stroke-opacity="0.42" stroke-width="1.1"/>
<path d="M414.0,118.0 L425.0,110.0 L440.0,112.0 L455.0,115.0 L462.0,110.0 L470.0,116.0 L478.0,118.0 L490.0,110.0 L505.0,113.0 L515.0,116.0 L535.0,119.0 L555.0,122.0 L573.0,123.0" fill="none" stroke="#1f7f1f" stroke-opacity="0.42" stroke-width="1.1"/>
<path d="M414.0,136.0 L425.0,128.0 L440.0,126.0 L455.0,128.0 L465.0,130.0 L478.0,132.0 L490.0,128.0 L510.0,127.0 L540.0,130.0 L560.0,134.0 L573.0,133.0" fill="none" stroke="#1f7f1f" stroke-opacity="0.42" stroke-width="1.1"/>
<path d="M440.0,138.0 L460.0,142.0 L478.0,140.0" fill="none" stroke="#1f7f1f" stroke-opacity="0.42" stroke-width="1.1"/></g><text x="493.5" y="28.3" font-size="10" text-anchor="middle" textLength="16.8" lengthAdjust="spacingAndGlyphs" fill="#ff1a1a" stroke="#ff1a1a" stroke-width="0.15">315</text>
<text x="496.0" y="43.9" font-size="10" text-anchor="middle" textLength="16.8" lengthAdjust="spacingAndGlyphs" fill="#ff1a1a" stroke="#ff1a1a" stroke-width="0.15">312</text>
<text x="494.0" y="60.1" font-size="10" text-anchor="middle" textLength="16.8" lengthAdjust="spacingAndGlyphs" fill="#ff1a1a" stroke="#ff1a1a" stroke-width="0.15">310</text>
<text x="491.0" y="76.7" font-size="10" text-anchor="middle" textLength="16.8" lengthAdjust="spacingAndGlyphs" fill="#ff1a1a" stroke="#ff1a1a" stroke-width="0.15">308</text>
<text x="492.0" y="96.2" font-size="10" text-anchor="middle" textLength="16.8" lengthAdjust="spacingAndGlyphs" fill="#ff1a1a" stroke="#ff1a1a" stroke-width="0.15">305</text>
<text x="490.0" y="114.2" font-size="10" text-anchor="middle" textLength="16.8" lengthAdjust="spacingAndGlyphs" fill="#ff1a1a" stroke="#ff1a1a" stroke-width="0.15">302</text>
<text x="489.0" y="133.7" font-size="10" text-anchor="middle" textLength="16.8" lengthAdjust="spacingAndGlyphs" fill="#ff1a1a" stroke="#ff1a1a" stroke-width="0.15">300</text>
<text x="508.5" y="29.2" font-size="10" text-anchor="middle" textLength="11.2" lengthAdjust="spacingAndGlyphs" fill="#1f8a1f" stroke="#1f8a1f" stroke-width="0.15">12</text>
<text x="506.8" y="48.9" font-size="10" text-anchor="middle" textLength="11.2" lengthAdjust="spacingAndGlyphs" fill="#1f8a1f" stroke="#1f8a1f" stroke-width="0.15">13</text>
<text x="506.8" y="66.5" font-size="10" text-anchor="middle" textLength="11.2" lengthAdjust="spacingAndGlyphs" fill="#1f8a1f" stroke="#1f8a1f" stroke-width="0.15">14</text>
<text x="510.1" y="84.0" font-size="10" text-anchor="middle" textLength="11.2" lengthAdjust="spacingAndGlyphs" fill="#1f8a1f" stroke="#1f8a1f" stroke-width="0.15">15</text>
<text x="522.2" y="103.3" font-size="10" text-anchor="middle" textLength="11.2" lengthAdjust="spacingAndGlyphs" fill="#1f8a1f" stroke="#1f8a1f" stroke-width="0.15" transform="rotate(30,522.2,99.6)">16</text>
<text x="515.1" y="120.9" font-size="10" text-anchor="middle" textLength="11.2" lengthAdjust="spacingAndGlyphs" fill="#1f8a1f" stroke="#1f8a1f" stroke-width="0.15" transform="rotate(10,515.1,117.2)">17</text>
<text x="421.8" y="128.8" font-size="10" text-anchor="middle" textLength="11.2" lengthAdjust="spacingAndGlyphs" fill="#1f8a1f" stroke="#1f8a1f" stroke-width="0.15">18</text>
<text x="434.4" y="134.2" font-size="10" text-anchor="middle" textLength="11.2" lengthAdjust="spacingAndGlyphs" fill="#1f8a1f" stroke="#1f8a1f" stroke-width="0.15">19</text>
<text x="482.4" y="143.9" font-size="10" text-anchor="middle" textLength="11.2" lengthAdjust="spacingAndGlyphs" fill="#1f8a1f" stroke="#1f8a1f" stroke-width="0.15">19</text>
<text x="563.8" y="139.2" font-size="10" text-anchor="middle" textLength="11.2" lengthAdjust="spacingAndGlyphs" fill="#1f8a1f" stroke="#1f8a1f" stroke-width="0.15" transform="rotate(-25,563.8,135.6)">19</text>
</g>
<g transform="translate(414.0,17.9)">
<rect x="33.3" y="124.7" width="54.2" height="2.1" fill="#000"/>
<rect x="92.2" y="124.7" width="5.2" height="2.1" fill="#000"/>
<rect x="100.9" y="124.7" width="5.5" height="2.1" fill="#000"/>
<rect x="116.0" y="124.7" width="21.2" height="2.1" fill="#000"/>
<rect x="123.2" y="4.8" width="28.5" height="21.7" rx="1" fill="#fff" stroke="#333" stroke-width="1"/>
<text x="137.6" y="18.7" font-size="14" text-anchor="middle" textLength="19" lengthAdjust="spacingAndGlyphs" fill="#000">(c)</text>
<rect x="0" y="0" width="159.6" height="127.8" fill="none" stroke="#8c8c8c" stroke-width="1.3"/>
<line x1="0.70" y1="127.8" x2="0.70" y2="130.4" stroke="#444" stroke-width="0.9"/>
<line x1="55.60" y1="127.8" x2="55.60" y2="130.4" stroke="#444" stroke-width="0.9"/>
<line x1="110.50" y1="127.8" x2="110.50" y2="130.4" stroke="#444" stroke-width="0.9"/>
<line x1="0" y1="127.80" x2="-2.6" y2="127.80" stroke="#444" stroke-width="0.9"/>
<line x1="0" y1="88.80" x2="-2.6" y2="88.80" stroke="#444" stroke-width="0.9"/>
<line x1="0" y1="49.80" x2="-2.6" y2="49.80" stroke="#444" stroke-width="0.9"/>
<line x1="0" y1="10.80" x2="-2.6" y2="10.80" stroke="#444" stroke-width="0.9"/>
<text x="79.8" y="-3.6" font-size="17.2" text-anchor="middle" textLength="66" lengthAdjust="spacingAndGlyphs" fill="#000">GF 25%</text>
</g>
<g clip-path="url(#cp3)">
<g filter="url(#fb)"><rect x="32.7" y="178.0" width="2.5" height="43.0" fill="#c4f9f9"/>
<rect x="31.3" y="238.0" width="2.2" height="29.0" fill="#fcf43c"/>
<rect x="54.2" y="171.7" width="7.3" height="63.3" fill="#fcf43c"/>
<rect x="62.6" y="183.6" width="4.2" height="67.4" fill="#c4f9f9"/>
<rect x="63.6" y="190.0" width="2.2" height="55.0" fill="#8cfcfc"/>
<rect x="66.8" y="171.7" width="6.2" height="62.1" fill="#fcf43c"/>
<rect x="73.0" y="171.7" width="21.0" height="30.7" fill="#fcdc4a"/>
<rect x="73.0" y="202.4" width="12.6" height="23.1" fill="#fcdc4a"/>
<rect x="74.0" y="177.0" width="7.0" height="21.0" fill="#fcb040"/>
<rect x="81.0" y="177.0" width="9.0" height="18.0" fill="#fcc848"/>
<rect x="85.6" y="202.4" width="6.3" height="17.6" fill="#fcf43c"/>
<rect x="94.0" y="171.7" width="18.8" height="30.7" fill="#fcf43c"/>
<rect x="96.0" y="175.0" width="12.0" height="25.0" fill="#fcdc4a"/>
<rect x="104.5" y="202.4" width="8.3" height="31.4" fill="#fcf43c"/>
<rect x="66.8" y="225.0" width="13.2" height="18.8" fill="#fcf43c"/>
<rect x="123.6" y="178.0" width="20.9" height="57.0" fill="#fcf43c"/>
<rect x="124.4" y="171.7" width="7.6" height="6.3" fill="#fcf43c"/>
<rect x="134.6" y="171.7" width="6.4" height="6.3" fill="#fcf43c"/>
<rect x="125.0" y="201.0" width="7.5" height="34.0" fill="#fcdc4a"/>
<rect x="151.2" y="181.0" width="2.5" height="35.0" fill="#fcf43c"/>
<rect x="184.6" y="196.0" width="2.6" height="28.6" fill="#fcf43c"/>
<rect x="47.0" y="235.0" width="1.6" height="5.0" fill="#fcf43c"/>
<rect x="52.8" y="235.0" width="5.8" height="55.0" fill="#fcf43c"/>
<rect x="54.5" y="268.0" width="2.5" height="20.0" fill="#fcc848"/>
<rect x="57.8" y="235.0" width="4.2" height="7.0" fill="#fcf43c"/>
<rect x="58.6" y="242.0" width="15.9" height="48.0" fill="#d2f9f9"/>
<rect x="63.0" y="242.0" width="5.0" height="20.0" fill="#c4f9f9"/>
<rect x="62.8" y="235.0" width="8.2" height="7.0" fill="#8cfcfc"/>
<rect x="65.3" y="266.0" width="5.0" height="27.6" fill="#fcf43c"/>
<rect x="66.5" y="283.0" width="2.5" height="8.0" fill="#fcb040"/>
<rect x="77.9" y="235.0" width="6.7" height="8.4" fill="#fcf43c"/>
<rect x="86.2" y="241.7" width="24.8" height="48.3" fill="#d2f9f9"/>
<rect x="107.0" y="262.0" width="7.6" height="28.0" fill="#c4f9f9"/>
<rect x="47.7" y="265.0" width="3.3" height="25.0" fill="#c4f9f9"/>
<rect x="111.0" y="251.7" width="14.2" height="38.3" fill="#d2f9f9"/>
<rect x="128.6" y="235.0" width="14.2" height="11.7" fill="#fcf43c"/>
<rect x="129.4" y="246.7" width="9.2" height="26.8" fill="#fcf43c"/>
<rect x="129.4" y="273.5" width="3.6" height="7.5" fill="#fcf43c"/>
<rect x="172.9" y="235.0" width="9.2" height="50.0" fill="#c4f9f9"/>
<rect x="177.0" y="225.0" width="3.0" height="10.0" fill="#c4f9f9"/></g><mask id="md" maskUnits="userSpaceOnUse" x="0" y="0" width="575" height="382"><rect x="0" y="0" width="575" height="382" fill="#fff"/><rect x="99.2" y="173.0" width="17.8" height="8.4" fill="#000"/><rect x="94.9" y="188.6" width="17.8" height="8.4" fill="#000"/><rect x="93.2" y="204.1" width="17.8" height="8.4" fill="#000" transform="rotate(-10,102.0,208.2)"/><rect x="100.0" y="223.1" width="17.8" height="8.4" fill="#000"/><rect x="103.5" y="240.0" width="17.8" height="8.4" fill="#000" transform="rotate(-10,112.4,244.2)"/><rect x="104.3" y="261.1" width="17.8" height="8.4" fill="#000"/><rect x="108.6" y="281.6" width="17.8" height="8.4" fill="#000"/><rect x="37.1" y="171.4" width="12.2" height="8.4" fill="#000" transform="rotate(10,43.2,175.6)"/><rect x="120.9" y="173.0" width="12.2" height="8.4" fill="#000"/><rect x="120.9" y="193.6" width="12.2" height="8.4" fill="#000"/><rect x="112.3" y="214.1" width="12.2" height="8.4" fill="#000" transform="rotate(5,118.4,218.3)"/><rect x="116.6" y="234.1" width="12.2" height="8.4" fill="#000"/><rect x="131.1" y="256.3" width="12.2" height="8.4" fill="#000" transform="rotate(35,137.2,260.5)"/><rect x="45.4" y="258.8" width="12.2" height="8.4" fill="#000" transform="rotate(-45,51.5,263.0)"/><rect x="76.4" y="278.1" width="12.2" height="8.4" fill="#000"/><rect x="156.9" y="284.8" width="12.2" height="8.4" fill="#000"/></mask><g mask="url(#md)"><path d="M31.0,180.0 L60.0,179.0 L90.0,177.0 L120.0,178.0 L150.0,179.0 L191.0,178.0" fill="none" stroke="#ff3030" stroke-opacity="0.38" stroke-width="1.1"/>
<path d="M31.0,195.0 L50.0,193.0 L70.0,194.0 L95.0,194.0 L130.0,195.0 L160.0,196.0 L191.0,196.0" fill="none" stroke="#ff3030" stroke-opacity="0.38" stroke-width="1.1"/>
<path d="M31.0,212.0 L45.0,210.0 L70.0,211.0 L95.0,210.0 L130.0,210.0 L160.0,212.0 L191.0,215.0" fill="none" stroke="#ff3030" stroke-opacity="0.38" stroke-width="1.1"/>
<path d="M31.0,228.0 L50.0,227.0 L75.0,230.0 L100.0,228.0 L130.0,228.0 L160.0,230.0 L191.0,232.0" fill="none" stroke="#ff3030" stroke-opacity="0.38" stroke-width="1.1"/>
<path d="M31.0,247.0 L50.0,245.0 L70.0,247.0 L90.0,246.0 L115.0,244.0 L145.0,245.0 L160.0,249.0 L191.0,250.0" fill="none" stroke="#ff3030" stroke-opacity="0.38" stroke-width="1.1"/>
<path d="M31.0,266.0 L60.0,266.0 L85.0,268.0 L105.0,266.0 L130.0,266.0 L160.0,268.0 L191.0,266.0" fill="none" stroke="#ff3030" stroke-opacity="0.38" stroke-width="1.1"/>
<path d="M31.0,284.0 L60.0,283.0 L85.0,283.0 L105.0,286.0 L130.0,288.0 L160.0,285.0 L191.0,284.0" fill="none" stroke="#ff3030" stroke-opacity="0.38" stroke-width="1.1"/>
<path d="M31.0,176.0 L37.0,175.0 L49.0,176.0 L55.0,178.0 L70.0,178.0 L100.0,176.0 L135.0,177.0 L155.0,179.0 L191.0,177.0" fill="none" stroke="#1f7f1f" stroke-opacity="0.42" stroke-width="1.1"/>
<path d="M31.0,192.0 L40.0,188.0 L50.0,187.0 L58.0,190.0 L63.0,198.0 L70.0,190.0 L95.0,192.0 L121.0,196.0 L140.0,197.0 L160.0,199.0 L191.0,198.0" fill="none" stroke="#1f7f1f" stroke-opacity="0.42" stroke-width="1.1"/>
<path d="M31.0,206.0 L40.0,203.0 L52.0,202.0 L58.0,208.0 L61.0,210.0 L64.0,205.0 L75.0,211.0 L100.0,214.0 L113.0,218.0 L140.0,220.0 L170.0,222.0 L191.0,222.0" fill="none" stroke="#1f7f1f" stroke-opacity="0.42" stroke-width="1.1"/>
<path d="M31.0,222.0 L45.0,220.0 L55.0,225.0 L62.0,230.0 L70.0,232.0 L90.0,236.0 L117.0,237.0 L140.0,240.0 L170.0,243.0 L191.0,245.0" fill="none" stroke="#1f7f1f" stroke-opacity="0.42" stroke-width="1.1"/>
<path d="M31.0,251.0 L45.0,245.0 L55.0,248.0 L65.0,247.0 L75.0,258.0 L80.0,262.0 L90.0,266.0 L95.0,256.0 L105.0,252.0 L120.0,258.0 L130.0,259.0 L145.0,265.0 L170.0,262.0 L191.0,258.0" fill="none" stroke="#1f7f1f" stroke-opacity="0.42" stroke-width="1.1"/>
<path d="M31.0,270.0 L40.0,262.0 L50.0,258.0 L58.0,266.0 L65.0,262.0 L72.0,270.0 L80.0,272.0 L90.0,275.0 L100.0,278.0 L111.0,275.0 L125.0,272.0 L140.0,275.0 L160.0,282.0 L191.0,280.0" fill="none" stroke="#1f7f1f" stroke-opacity="0.42" stroke-width="1.1"/>
<path d="M31.0,287.0 L45.0,283.0 L58.0,277.0 L65.0,272.0 L70.0,282.0 L78.0,283.0 L90.0,288.0 L105.0,292.0 L125.0,288.0 L145.0,290.0 L160.0,287.0 L191.0,285.0" fill="none" stroke="#1f7f1f" stroke-opacity="0.42" stroke-width="1.1"/>
<path d="M68.0,295.0 L75.0,292.0 L80.0,292.0" fill="none" stroke="#1f7f1f" stroke-opacity="0.42" stroke-width="1.1"/></g><text x="108.0" y="180.9" font-size="10" text-anchor="middle" textLength="16.8" lengthAdjust="spacingAndGlyphs" fill="#ff1a1a" stroke="#ff1a1a" stroke-width="0.15">315</text>
<text x="103.8" y="196.4" font-size="10" text-anchor="middle" textLength="16.8" lengthAdjust="spacingAndGlyphs" fill="#ff1a1a" stroke="#ff1a1a" stroke-width="0.15">312</text>
<text x="102.0" y="211.9" font-size="10" text-anchor="middle" textLength="16.8" lengthAdjust="spacingAndGlyphs" fill="#ff1a1a" stroke="#ff1a1a" stroke-width="0.15" transform="rotate(-10,102.0,208.2)">310</text>
<text x="108.9" y="230.9" font-size="10" text-anchor="middle" textLength="16.8" lengthAdjust="spacingAndGlyphs" fill="#ff1a1a" stroke="#ff1a1a" stroke-width="0.15">308</text>
<text x="112.4" y="247.8" font-size="10" text-anchor="middle" textLength="16.8" lengthAdjust="spacingAndGlyphs" fill="#ff1a1a" stroke="#ff1a1a" stroke-width="0.15" transform="rotate(-10,112.4,244.2)">305</text>
<text x="113.2" y="268.9" font-size="10" text-anchor="middle" textLength="16.8" lengthAdjust="spacingAndGlyphs" fill="#ff1a1a" stroke="#ff1a1a" stroke-width="0.15">302</text>
<text x="117.5" y="289.4" font-size="10" text-anchor="middle" textLength="16.8" lengthAdjust="spacingAndGlyphs" fill="#ff1a1a" stroke="#ff1a1a" stroke-width="0.15">300</text>
<text x="43.2" y="179.3" font-size="10" text-anchor="middle" textLength="11.2" lengthAdjust="spacingAndGlyphs" fill="#1f8a1f" stroke="#1f8a1f" stroke-width="0.15" transform="rotate(10,43.2,175.6)">11</text>
<text x="127.0" y="180.9" font-size="10" text-anchor="middle" textLength="11.2" lengthAdjust="spacingAndGlyphs" fill="#1f8a1f" stroke="#1f8a1f" stroke-width="0.15">12</text>
<text x="127.0" y="201.4" font-size="10" text-anchor="middle" textLength="11.2" lengthAdjust="spacingAndGlyphs" fill="#1f8a1f" stroke="#1f8a1f" stroke-width="0.15">13</text>
<text x="118.4" y="222.0" font-size="10" text-anchor="middle" textLength="11.2" lengthAdjust="spacingAndGlyphs" fill="#1f8a1f" stroke="#1f8a1f" stroke-width="0.15" transform="rotate(5,118.4,218.3)">14</text>
<text x="122.7" y="241.9" font-size="10" text-anchor="middle" textLength="11.2" lengthAdjust="spacingAndGlyphs" fill="#1f8a1f" stroke="#1f8a1f" stroke-width="0.15">15</text>
<text x="137.2" y="264.2" font-size="10" text-anchor="middle" textLength="11.2" lengthAdjust="spacingAndGlyphs" fill="#1f8a1f" stroke="#1f8a1f" stroke-width="0.15" transform="rotate(35,137.2,260.5)">16</text>
<text x="51.5" y="266.7" font-size="10" text-anchor="middle" textLength="11.2" lengthAdjust="spacingAndGlyphs" fill="#1f8a1f" stroke="#1f8a1f" stroke-width="0.15" transform="rotate(-45,51.5,263.0)">17</text>
<text x="82.5" y="285.9" font-size="10" text-anchor="middle" textLength="11.2" lengthAdjust="spacingAndGlyphs" fill="#1f8a1f" stroke="#1f8a1f" stroke-width="0.15">18</text>
<text x="163.0" y="292.7" font-size="10" text-anchor="middle" textLength="11.2" lengthAdjust="spacingAndGlyphs" fill="#1f8a1f" stroke="#1f8a1f" stroke-width="0.15">18</text>
</g>
<g transform="translate(31.3,171.7)">
<rect x="33.3" y="124.7" width="54.2" height="2.1" fill="#000"/>
<rect x="92.2" y="124.7" width="5.2" height="2.1" fill="#000"/>
<rect x="100.9" y="124.7" width="5.5" height="2.1" fill="#000"/>
<rect x="116.0" y="124.7" width="21.2" height="2.1" fill="#000"/>
<rect x="123.2" y="4.8" width="28.5" height="21.7" rx="1" fill="#fff" stroke="#333" stroke-width="1"/>
<text x="137.6" y="18.7" font-size="14" text-anchor="middle" textLength="19" lengthAdjust="spacingAndGlyphs" fill="#000">(d)</text>
<rect x="0" y="0" width="159.6" height="127.8" fill="none" stroke="#8c8c8c" stroke-width="1.3"/>
<line x1="0.70" y1="127.8" x2="0.70" y2="130.4" stroke="#444" stroke-width="0.9"/>
<line x1="55.60" y1="127.8" x2="55.60" y2="130.4" stroke="#444" stroke-width="0.9"/>
<line x1="110.50" y1="127.8" x2="110.50" y2="130.4" stroke="#444" stroke-width="0.9"/>
<line x1="0" y1="127.80" x2="-2.6" y2="127.80" stroke="#444" stroke-width="0.9"/>
<line x1="0" y1="88.80" x2="-2.6" y2="88.80" stroke="#444" stroke-width="0.9"/>
<line x1="0" y1="49.80" x2="-2.6" y2="49.80" stroke="#444" stroke-width="0.9"/>
<line x1="0" y1="10.80" x2="-2.6" y2="10.80" stroke="#444" stroke-width="0.9"/>
<text x="79.8" y="-3.6" font-size="17.2" text-anchor="middle" textLength="66" lengthAdjust="spacingAndGlyphs" fill="#000">GF 50%</text>
<text x="-9.5" y="132.80" font-size="14" text-anchor="middle" fill="#000">0</text>
<text x="-9.5" y="93.80" font-size="14" text-anchor="middle" fill="#000">1</text>
<text x="-9.5" y="54.80" font-size="14" text-anchor="middle" fill="#000">2</text>
<text x="-9.5" y="15.80" font-size="14" text-anchor="middle" fill="#000">3</text>
<text x="0.70" y="143.20" font-size="14.3" text-anchor="middle" textLength="8.9" lengthAdjust="spacingAndGlyphs" fill="#000">0</text>
<text x="55.60" y="143.20" font-size="14.3" text-anchor="middle" textLength="17.8" lengthAdjust="spacingAndGlyphs" fill="#000">25</text>
<text x="110.50" y="143.20" font-size="14.3" text-anchor="middle" textLength="17.8" lengthAdjust="spacingAndGlyphs" fill="#000">50</text>
<text x="79.3" y="158.70" font-size="14" text-anchor="middle" textLength="99.5" lengthAdjust="spacingAndGlyphs" fill="#000">Distance (km)</text>
</g>
<g clip-path="url(#cp4)">
<g filter="url(#fb)"><rect x="222.7" y="171.7" width="3.5" height="16.3" fill="#c84048"/>
<rect x="222.7" y="188.0" width="3.5" height="16.0" fill="#f84c40"/>
<rect x="222.7" y="204.0" width="3.5" height="17.0" fill="#fc8a3a"/>
<rect x="226.2" y="171.7" width="4.2" height="32.8" fill="#fc8a3a"/>
<rect x="226.2" y="204.5" width="4.2" height="10.5" fill="#fcdc4a"/>
<rect x="222.7" y="205.0" width="2.9" height="79.0" fill="#66fbfb"/>
<rect x="225.6" y="221.0" width="4.4" height="63.0" fill="#d9fefe"/>
<rect x="230.4" y="171.7" width="8.3" height="29.3" fill="#fcdc4a"/>
<rect x="230.4" y="201.0" width="1.6" height="13.0" fill="#ffffff"/>
<rect x="232.0" y="201.0" width="6.7" height="34.0" fill="#fcf43c"/>
<rect x="231.2" y="235.0" width="5.8" height="52.0" fill="#fcdc4a"/>
<rect x="237.0" y="235.0" width="5.0" height="18.4" fill="#fcf43c"/>
<rect x="238.7" y="171.7" width="5.1" height="63.3" fill="#c4f9f9"/>
<rect x="239.8" y="171.7" width="2.7" height="63.3" fill="#8cfcfc"/>
<rect x="242.0" y="235.0" width="4.3" height="43.5" fill="#fcf43c"/>
<rect x="242.5" y="171.7" width="11.5" height="63.3" fill="#fcb040"/>
<rect x="245.0" y="171.7" width="7.0" height="63.3" fill="#fc8a3a"/>
<rect x="247.0" y="171.7" width="4.5" height="63.3" fill="#fc6a40"/>
<rect x="248.0" y="190.0" width="2.5" height="40.0" fill="#f84c40"/>
<rect x="245.0" y="235.0" width="7.0" height="23.0" fill="#fc9c3c"/>
<rect x="247.0" y="235.0" width="4.5" height="23.0" fill="#fc6a40"/>
<rect x="246.3" y="258.0" width="5.2" height="32.0" fill="#fcc848"/>
<rect x="250.5" y="260.0" width="5.0" height="30.0" fill="#fcf43c"/>
<rect x="250.5" y="235.0" width="4.5" height="25.0" fill="#8cfcfc"/>
<rect x="253.0" y="171.7" width="22.1" height="42.9" fill="#fcdc4a"/>
<rect x="256.0" y="175.0" width="17.0" height="30.0" fill="#fcc848"/>
<rect x="260.0" y="180.0" width="8.0" height="20.0" fill="#fcb040"/>
<rect x="256.7" y="214.6" width="11.7" height="36.8" fill="#fcf43c"/>
<rect x="258.0" y="214.6" width="8.0" height="20.4" fill="#fcdc4a"/>
<rect x="253.0" y="214.6" width="3.7" height="17.4" fill="#fcf43c"/>
<rect x="281.8" y="171.7" width="8.4" height="12.7" fill="#fcf43c"/>
<rect x="280.0" y="184.4" width="13.6" height="36.9" fill="#fcf43c"/>
<rect x="283.0" y="190.0" width="7.0" height="25.0" fill="#fcdc4a"/>
<rect x="283.5" y="221.3" width="13.5" height="16.7" fill="#fcf43c"/>
<rect x="290.0" y="238.0" width="8.6" height="10.0" fill="#fcf43c"/>
<rect x="309.5" y="171.7" width="7.5" height="66.3" fill="#fcf43c"/>
<rect x="307.0" y="238.0" width="10.0" height="13.0" fill="#fcf43c"/>
<rect x="317.0" y="211.0" width="2.6" height="29.0" fill="#fcf43c"/>
<rect x="300.0" y="238.0" width="22.0" height="20.0" fill="#fcf43c"/>
<rect x="305.3" y="258.0" width="16.7" height="27.0" fill="#fcf43c"/>
<rect x="308.0" y="285.0" width="12.0" height="7.0" fill="#fcf43c"/>
<rect x="264.7" y="254.8" width="10.8" height="23.2" fill="#c4f9f9"/>
<rect x="333.8" y="260.0" width="8.4" height="30.2" fill="#fcf43c"/>
<rect x="333.8" y="251.7" width="4.2" height="8.3" fill="#fcf43c"/>
<rect x="379.8" y="277.7" width="2.5" height="9.3" fill="#fcf43c"/></g><mask id="me" maskUnits="userSpaceOnUse" x="0" y="0" width="575" height="382"><rect x="0" y="0" width="575" height="382" fill="#fff"/><rect x="289.1" y="173.6" width="17.8" height="8.4" fill="#000"/><rect x="289.1" y="189.6" width="17.8" height="8.4" fill="#000"/><rect x="289.1" y="205.1" width="17.8" height="8.4" fill="#000"/><rect x="292.4" y="223.6" width="17.8" height="8.4" fill="#000"/><rect x="291.9" y="243.4" width="17.8" height="8.4" fill="#000"/><rect x="284.9" y="262.2" width="17.8" height="8.4" fill="#000"/><rect x="293.6" y="279.7" width="17.8" height="8.4" fill="#000"/><rect x="308.8" y="192.4" width="12.2" height="8.4" fill="#000"/><rect x="305.1" y="212.4" width="12.2" height="8.4" fill="#000"/><rect x="306.8" y="233.6" width="12.2" height="8.4" fill="#000" transform="rotate(10,312.9,237.8)"/><rect x="322.7" y="266.4" width="12.2" height="8.4" fill="#000"/><rect x="311.8" y="275.6" width="12.2" height="8.4" fill="#000"/><rect x="341.1" y="285.6" width="12.2" height="8.4" fill="#000"/><rect x="232.3" y="265.9" width="12.2" height="8.4" fill="#000" transform="rotate(50,238.4,270.1)"/><rect x="241.4" y="287.3" width="12.2" height="8.4" fill="#000"/></mask><g mask="url(#me)"><path d="M222.0,181.0 L240.0,180.0 L260.0,179.0 L300.0,178.0 L340.0,180.0 L382.0,180.0" fill="none" stroke="#ff3030" stroke-opacity="0.38" stroke-width="1.1"/>
<path d="M222.0,196.0 L240.0,197.0 L260.0,196.0 L300.0,196.0 L340.0,196.0 L382.0,197.0" fill="none" stroke="#ff3030" stroke-opacity="0.38" stroke-width="1.1"/>
<path d="M222.0,212.0 L240.0,213.0 L260.0,211.0 L300.0,211.0 L340.0,211.5 L382.0,212.0" fill="none" stroke="#ff3030" stroke-opacity="0.38" stroke-width="1.1"/>
<path d="M222.0,229.0 L240.0,230.0 L260.0,228.0 L300.0,228.0 L340.0,229.0 L382.0,230.0" fill="none" stroke="#ff3030" stroke-opacity="0.38" stroke-width="1.1"/>
<path d="M222.0,248.0 L235.0,246.0 L250.0,244.0 L275.0,246.0 L300.0,247.0 L340.0,248.0 L360.0,250.0 L382.0,248.0" fill="none" stroke="#ff3030" stroke-opacity="0.38" stroke-width="1.1"/>
<path d="M222.0,268.0 L240.0,266.0 L255.0,264.0 L275.0,265.0 L300.0,266.0 L325.0,268.0 L350.0,269.0 L382.0,267.0" fill="none" stroke="#ff3030" stroke-opacity="0.38" stroke-width="1.1"/>
<path d="M222.0,286.0 L240.0,285.0 L260.0,284.0 L285.0,283.0 L300.0,283.0 L325.0,286.0 L350.0,285.0 L382.0,284.0" fill="none" stroke="#ff3030" stroke-opacity="0.38" stroke-width="1.1"/>
<path d="M222.0,174.0 L228.0,172.0 L235.0,178.0 L241.0,178.0 L245.0,176.0 L260.0,176.0 L300.0,177.0 L330.0,180.0 L350.0,181.0 L382.0,183.0" fill="none" stroke="#1f7f1f" stroke-opacity="0.42" stroke-width="1.1"/>
<path d="M222.0,190.0 L228.0,185.0 L235.0,192.0 L240.0,193.0 L245.0,190.0 L260.0,192.0 L300.0,194.0 L330.0,195.0 L360.0,197.0 L382.0,202.0" fill="none" stroke="#1f7f1f" stroke-opacity="0.42" stroke-width="1.1"/>
<path d="M222.0,205.0 L228.0,200.0 L235.0,208.0 L240.0,210.0 L245.0,206.0 L260.0,208.0 L300.0,212.0 L340.0,214.0 L382.0,218.0" fill="none" stroke="#1f7f1f" stroke-opacity="0.42" stroke-width="1.1"/>
<path d="M222.0,220.0 L228.0,214.0 L235.0,222.0 L240.0,225.0 L245.0,220.0 L260.0,225.0 L280.0,232.0 L300.0,235.0 L340.0,238.0 L360.0,240.0 L382.0,240.0" fill="none" stroke="#1f7f1f" stroke-opacity="0.42" stroke-width="1.1"/>
<path d="M222.0,235.0 L228.0,228.0 L235.0,237.0 L240.0,241.0 L245.0,238.0 L253.0,248.0 L262.0,254.0 L270.0,256.0 L282.0,262.0 L300.0,266.0 L320.0,269.0 L336.0,266.0 L345.0,264.0 L360.0,261.0 L382.0,262.0" fill="none" stroke="#1f7f1f" stroke-opacity="0.42" stroke-width="1.1"/>
<path d="M222.0,250.0 L228.0,244.0 L235.0,250.0 L240.0,254.0 L245.0,250.0 L250.0,255.0 L260.0,268.0 L268.0,260.0 L275.0,264.0 L285.0,271.0 L300.0,274.0 L322.0,276.0 L340.0,275.0 L360.0,275.0 L382.0,272.0" fill="none" stroke="#1f7f1f" stroke-opacity="0.42" stroke-width="1.1"/>
<path d="M222.0,265.0 L230.0,258.0 L238.0,268.0 L245.0,276.0 L250.0,265.0 L256.0,270.0 L262.0,280.0 L270.0,272.0 L280.0,278.0 L300.0,283.0 L322.0,283.0 L340.0,284.0 L360.0,282.0 L382.0,280.0" fill="none" stroke="#1f7f1f" stroke-opacity="0.42" stroke-width="1.1"/>
<path d="M222.0,290.0 L232.0,291.0 L240.0,288.0 L250.0,287.0 L256.0,293.0 L270.0,294.0 L280.0,294.0" fill="none" stroke="#1f7f1f" stroke-opacity="0.42" stroke-width="1.1"/>
<path d="M333.0,296.0 L340.0,294.0 L352.0,292.0 L360.0,290.0 L370.0,288.0 L382.0,288.0" fill="none" stroke="#1f7f1f" stroke-opacity="0.42" stroke-width="1.1"/></g><text x="298.0" y="181.4" font-size="10" text-anchor="middle" textLength="16.8" lengthAdjust="spacingAndGlyphs" fill="#ff1a1a" stroke="#ff1a1a" stroke-width="0.15">315</text>
<text x="298.0" y="197.4" font-size="10" text-anchor="middle" textLength="16.8" lengthAdjust="spacingAndGlyphs" fill="#ff1a1a" stroke="#ff1a1a" stroke-width="0.15">312</text>
<text x="298.0" y="212.9" font-size="10" text-anchor="middle" textLength="16.8" lengthAdjust="spacingAndGlyphs" fill="#ff1a1a" stroke="#ff1a1a" stroke-width="0.15">310</text>
<text x="301.2" y="231.4" font-size="10" text-anchor="middle" textLength="16.8" lengthAdjust="spacingAndGlyphs" fill="#ff1a1a" stroke="#ff1a1a" stroke-width="0.15">308</text>
<text x="300.8" y="251.3" font-size="10" text-anchor="middle" textLength="16.8" lengthAdjust="spacingAndGlyphs" fill="#ff1a1a" stroke="#ff1a1a" stroke-width="0.15">305</text>
<text x="293.8" y="270.1" font-size="10" text-anchor="middle" textLength="16.8" lengthAdjust="spacingAndGlyphs" fill="#ff1a1a" stroke="#ff1a1a" stroke-width="0.15">302</text>
<text x="302.5" y="287.6" font-size="10" text-anchor="middle" textLength="16.8" lengthAdjust="spacingAndGlyphs" fill="#ff1a1a" stroke="#ff1a1a" stroke-width="0.15">300</text>
<text x="314.9" y="200.2" font-size="10" text-anchor="middle" textLength="11.2" lengthAdjust="spacingAndGlyphs" fill="#1f8a1f" stroke="#1f8a1f" stroke-width="0.15">13</text>
<text x="311.2" y="220.3" font-size="10" text-anchor="middle" textLength="11.2" lengthAdjust="spacingAndGlyphs" fill="#1f8a1f" stroke="#1f8a1f" stroke-width="0.15">14</text>
<text x="312.9" y="241.4" font-size="10" text-anchor="middle" textLength="11.2" lengthAdjust="spacingAndGlyphs" fill="#1f8a1f" stroke="#1f8a1f" stroke-width="0.15" transform="rotate(10,312.9,237.8)">15</text>
<text x="328.8" y="274.2" font-size="10" text-anchor="middle" textLength="11.2" lengthAdjust="spacingAndGlyphs" fill="#1f8a1f" stroke="#1f8a1f" stroke-width="0.15">16</text>
<text x="317.9" y="283.4" font-size="10" text-anchor="middle" textLength="11.2" lengthAdjust="spacingAndGlyphs" fill="#1f8a1f" stroke="#1f8a1f" stroke-width="0.15">17</text>
<text x="347.2" y="293.5" font-size="10" text-anchor="middle" textLength="11.2" lengthAdjust="spacingAndGlyphs" fill="#1f8a1f" stroke="#1f8a1f" stroke-width="0.15">18</text>
<text x="238.4" y="273.8" font-size="10" text-anchor="middle" textLength="11.2" lengthAdjust="spacingAndGlyphs" fill="#1f8a1f" stroke="#1f8a1f" stroke-width="0.15" transform="rotate(50,238.4,270.1)">18</text>
<text x="247.5" y="295.2" font-size="10" text-anchor="middle" textLength="11.2" lengthAdjust="spacingAndGlyphs" fill="#1f8a1f" stroke="#1f8a1f" stroke-width="0.15">19</text>
</g>
<g transform="translate(222.7,171.7)">
<rect x="33.3" y="124.7" width="54.2" height="2.1" fill="#000"/>
<rect x="92.2" y="124.7" width="5.2" height="2.1" fill="#000"/>
<rect x="100.9" y="124.7" width="5.5" height="2.1" fill="#000"/>
<rect x="116.0" y="124.7" width="21.2" height="2.1" fill="#000"/>
<rect x="123.2" y="4.8" width="28.5" height="21.7" rx="1" fill="#fff" stroke="#333" stroke-width="1"/>
<text x="137.6" y="18.7" font-size="14" text-anchor="middle" textLength="19" lengthAdjust="spacingAndGlyphs" fill="#000">(e)</text>
<text x="130.1" y="12.4" font-size="10.5" text-anchor="middle" textLength="11.2" lengthAdjust="spacingAndGlyphs" fill="#1f8a1f" stroke="#1f8a1f" stroke-width="0.15" transform="rotate(10,130.1,8.7)">12</text>
<rect x="0" y="0" width="159.6" height="127.8" fill="none" stroke="#8c8c8c" stroke-width="1.3"/>
<line x1="0.70" y1="127.8" x2="0.70" y2="130.4" stroke="#444" stroke-width="0.9"/>
<line x1="55.60" y1="127.8" x2="55.60" y2="130.4" stroke="#444" stroke-width="0.9"/>
<line x1="110.50" y1="127.8" x2="110.50" y2="130.4" stroke="#444" stroke-width="0.9"/>
<line x1="0" y1="127.80" x2="-2.6" y2="127.80" stroke="#444" stroke-width="0.9"/>
<line x1="0" y1="88.80" x2="-2.6" y2="88.80" stroke="#444" stroke-width="0.9"/>
<line x1="0" y1="49.80" x2="-2.6" y2="49.80" stroke="#444" stroke-width="0.9"/>
<line x1="0" y1="10.80" x2="-2.6" y2="10.80" stroke="#444" stroke-width="0.9"/>
<text x="79.8" y="-3.6" font-size="17.2" text-anchor="middle" textLength="66" lengthAdjust="spacingAndGlyphs" fill="#000">GF 75%</text>
<text x="0.70" y="143.20" font-size="14.3" text-anchor="middle" textLength="8.9" lengthAdjust="spacingAndGlyphs" fill="#000">0</text>
<text x="55.60" y="143.20" font-size="14.3" text-anchor="middle" textLength="17.8" lengthAdjust="spacingAndGlyphs" fill="#000">25</text>
<text x="110.50" y="143.20" font-size="14.3" text-anchor="middle" textLength="17.8" lengthAdjust="spacingAndGlyphs" fill="#000">50</text>
<text x="79.3" y="158.70" font-size="14" text-anchor="middle" textLength="99.5" lengthAdjust="spacingAndGlyphs" fill="#000">Distance (km)</text>
</g>
<g clip-path="url(#cp5)">
<g filter="url(#fb)"><rect x="414.0" y="171.7" width="4.0" height="33.3" fill="#fcc848"/>
<rect x="414.0" y="205.0" width="4.0" height="45.0" fill="#fcf43c"/>
<rect x="417.2" y="215.0" width="5.2" height="42.0" fill="#fcf43c"/>
<rect x="414.0" y="257.0" width="11.0" height="38.0" fill="#c4f9f9"/>
<rect x="416.0" y="265.0" width="5.0" height="15.0" fill="#ffffff"/>
<rect x="430.0" y="171.7" width="8.0" height="14.3" fill="#fcc848"/>
<rect x="431.0" y="195.0" width="7.0" height="55.0" fill="#c4f9f9"/>
<rect x="432.0" y="200.0" width="5.0" height="30.0" fill="#ffffff"/>
<polygon points="427.7,246 440.2,246 440.2,284 429.8,284" fill="#fcc848"/>
<rect x="430.5" y="284.0" width="9.0" height="8.0" fill="#fcf43c"/>
<polygon points="415,171.7 433,171.7 434,215 436,246 435.5,262 428,262 425,246 421,215 417,195 415,185" fill="#fc9c3c"/>
<polygon points="417,171.7 431,171.7 432,205 434,230 433.5,250 428.5,250 425.5,230 422,205 418,190" fill="#fc6a40"/>
<polygon points="418.5,171.7 430,171.7 430.5,205 432,232 428,240 424.5,225 421.5,200 418.5,182" fill="#c84048"/>
<polygon points="420,171.7 428.5,171.7 429,205 430,228 427.5,232 425,215 422,195 420,180" fill="#a04048"/>
<polygon points="436.5,171.7 449,171.7 447,215 444.4,257 438,257 437,230 436.5,200" fill="#fc9c3c"/>
<polygon points="438,171.7 447,171.7 446,205 444.4,227.6 439,232 438,205" fill="#fc6a40"/>
<polygon points="438.7,171.7 446,171.7 445.5,200 444.2,220 440.2,222 438.9,200" fill="#c84048"/>
<polygon points="439.5,171.7 445.3,171.7 445,196 443.5,212 441,213 439.7,196" fill="#a04048"/>
<rect x="444.4" y="231.8" width="3.2" height="63.2" fill="#8cfcfc"/>
<rect x="447.0" y="171.7" width="4.6" height="39.3" fill="#fcf43c"/>
<rect x="457.6" y="175.0" width="20.4" height="36.0" fill="#fcf43c"/>
<rect x="461.0" y="180.0" width="14.0" height="31.0" fill="#fcdc4a"/>
<rect x="462.0" y="171.7" width="16.0" height="3.3" fill="#fcf43c"/>
<rect x="468.0" y="211.0" width="10.0" height="76.0" fill="#fcf43c"/>
<rect x="465.0" y="240.0" width="3.0" height="42.0" fill="#fcf43c"/>
<rect x="470.0" y="211.0" width="6.0" height="29.0" fill="#fcdc4a"/>
<rect x="452.0" y="200.0" width="8.0" height="50.0" fill="#d9fefe"/>
<rect x="460.0" y="215.0" width="6.0" height="30.0" fill="#d9fefe"/>
<rect x="453.0" y="205.0" width="4.0" height="35.0" fill="#c4f9f9"/>
<rect x="454.0" y="212.0" width="4.0" height="13.0" fill="#ffffff"/>
<rect x="449.0" y="255.0" width="9.0" height="15.0" fill="#c4f9f9"/>
<rect x="481.6" y="262.0" width="8.4" height="23.0" fill="#c4f9f9"/>
<rect x="496.3" y="171.7" width="3.4" height="46.3" fill="#c4f9f9"/>
<rect x="505.6" y="173.5" width="5.0" height="45.2" fill="#fcf43c"/>
<rect x="534.0" y="189.4" width="5.9" height="59.0" fill="#fcf43c"/>
<rect x="549.0" y="197.8" width="8.4" height="94.2" fill="#fcf43c"/>
<rect x="552.0" y="235.0" width="3.0" height="30.0" fill="#ffffff"/>
<rect x="558.3" y="181.0" width="6.7" height="111.0" fill="#fcf43c"/>
<rect x="557.4" y="250.0" width="0.9" height="42.0" fill="#fcf43c"/>
<rect x="566.6" y="197.8" width="5.1" height="52.2" fill="#c4f9f9"/>
<rect x="506.0" y="251.7" width="2.0" height="38.3" fill="#fcf43c"/>
<rect x="565.0" y="266.8" width="8.3" height="25.2" fill="#fcf43c"/>
<rect x="535.7" y="271.8" width="7.5" height="11.7" fill="#c4f9f9"/></g><mask id="mf" maskUnits="userSpaceOnUse" x="0" y="0" width="575" height="382"><rect x="0" y="0" width="575" height="382" fill="#fff"/><rect x="476.2" y="173.2" width="17.8" height="8.4" fill="#000"/><rect x="479.6" y="188.8" width="17.8" height="8.4" fill="#000"/><rect x="473.6" y="205.8" width="17.8" height="8.4" fill="#000"/><rect x="481.3" y="222.9" width="17.8" height="8.4" fill="#000"/><rect x="479.6" y="241.8" width="17.8" height="8.4" fill="#000"/><rect x="484.6" y="265.8" width="17.8" height="8.4" fill="#000"/><rect x="479.6" y="281.3" width="17.8" height="8.4" fill="#000"/><rect x="500.4" y="177.2" width="12.2" height="8.4" fill="#000"/><rect x="500.4" y="194.4" width="12.2" height="8.4" fill="#000"/><rect x="490.1" y="211.3" width="12.2" height="8.4" fill="#000"/><rect x="502.1" y="233.3" width="12.2" height="8.4" fill="#000" transform="rotate(10,508.2,237.5)"/><rect x="421.5" y="236.1" width="12.2" height="8.4" fill="#000" transform="rotate(-60,427.6,240.2)"/><rect x="509.0" y="276.8" width="12.2" height="8.4" fill="#000" transform="rotate(-15,515.1,281.0)"/><rect x="538.0" y="283.3" width="12.2" height="8.4" fill="#000" transform="rotate(-10,544.1,287.5)"/><rect x="455.9" y="276.5" width="12.2" height="8.4" fill="#000" transform="rotate(40,462.0,280.7)"/><rect x="433.5" y="282.4" width="12.2" height="8.4" fill="#000"/></mask><g mask="url(#mf)"><path d="M414.0,180.0 L440.0,178.0 L470.0,177.0 L500.0,178.0 L530.0,180.0 L573.0,179.0" fill="none" stroke="#ff3030" stroke-opacity="0.38" stroke-width="1.1"/>
<path d="M414.0,195.0 L440.0,194.0 L470.0,194.0 L500.0,194.0 L530.0,195.0 L573.0,196.0" fill="none" stroke="#ff3030" stroke-opacity="0.38" stroke-width="1.1"/>
<path d="M414.0,212.0 L440.0,211.0 L460.0,208.0 L480.0,210.0 L510.0,211.0 L540.0,212.0 L573.0,213.0" fill="none" stroke="#ff3030" stroke-opacity="0.38" stroke-width="1.1"/>
<path d="M414.0,229.0 L440.0,228.0 L460.0,229.0 L480.0,228.0 L510.0,229.0 L540.0,229.0 L573.0,228.0" fill="none" stroke="#ff3030" stroke-opacity="0.38" stroke-width="1.1"/>
<path d="M414.0,248.0 L440.0,247.0 L460.0,248.0 L480.0,247.0 L510.0,248.0 L540.0,250.0 L573.0,249.0" fill="none" stroke="#ff3030" stroke-opacity="0.38" stroke-width="1.1"/>
<path d="M414.0,266.0 L440.0,266.0 L460.0,264.0 L485.0,268.0 L510.0,269.0 L540.0,270.0 L573.0,268.0" fill="none" stroke="#ff3030" stroke-opacity="0.38" stroke-width="1.1"/>
<path d="M414.0,285.0 L440.0,284.0 L460.0,283.0 L480.0,286.0 L510.0,286.0 L540.0,286.0 L560.0,284.0 L573.0,287.0" fill="none" stroke="#ff3030" stroke-opacity="0.38" stroke-width="1.1"/>
<path d="M414.0,180.0 L420.0,172.0 L426.0,175.0 L432.0,182.0 L437.0,186.0 L442.0,175.0 L446.0,174.0 L452.0,183.0 L458.0,186.0 L470.0,181.0 L490.0,182.0 L500.0,182.0 L520.0,182.0 L545.0,181.0 L573.0,180.0" fill="none" stroke="#1f7f1f" stroke-opacity="0.42" stroke-width="1.1"/>
<path d="M414.0,196.0 L420.0,188.0 L426.0,186.0 L432.0,196.0 L437.0,203.0 L442.0,191.0 L446.0,190.0 L452.0,199.0 L458.0,205.0 L470.0,198.0 L490.0,199.0 L500.0,199.0 L520.0,199.0 L545.0,199.0 L573.0,198.0" fill="none" stroke="#1f7f1f" stroke-opacity="0.42" stroke-width="1.1"/>
<path d="M414.0,212.0 L420.0,206.0 L426.0,203.0 L432.0,212.0 L437.0,220.0 L442.0,208.0 L446.0,207.0 L452.0,216.0 L460.0,222.0 L470.0,217.0 L490.0,216.0 L510.0,217.0 L530.0,219.0 L560.0,220.0 L573.0,219.0" fill="none" stroke="#1f7f1f" stroke-opacity="0.42" stroke-width="1.1"/>
<path d="M414.0,230.0 L420.0,224.0 L426.0,221.0 L432.0,230.0 L437.0,236.0 L442.0,226.0 L446.0,226.0 L452.0,236.0 L460.0,240.0 L480.0,238.0 L500.0,238.0 L520.0,239.0 L545.0,242.0 L573.0,245.0" fill="none" stroke="#1f7f1f" stroke-opacity="0.42" stroke-width="1.1"/>
<path d="M414.0,250.0 L418.0,245.0 L424.0,238.0 L428.0,236.0 L437.0,247.0 L442.0,242.0 L450.0,248.0 L460.0,256.0 L470.0,258.0 L480.0,262.0 L495.0,268.0 L510.0,270.0 L530.0,262.0 L545.0,262.0 L560.0,264.0 L573.0,262.0" fill="none" stroke="#1f7f1f" stroke-opacity="0.42" stroke-width="1.1"/>
<path d="M414.0,265.0 L418.0,260.0 L424.0,252.0 L430.0,255.0 L437.0,262.0 L442.0,258.0 L450.0,262.0 L458.0,270.0 L470.0,276.0 L480.0,280.0 L495.0,284.0 L510.0,283.0 L520.0,279.0 L535.0,276.0 L555.0,276.0 L573.0,276.0" fill="none" stroke="#1f7f1f" stroke-opacity="0.42" stroke-width="1.1"/>
<path d="M414.0,283.0 L420.0,277.0 L428.0,272.0 L436.0,278.0 L445.0,280.0 L458.0,282.0 L470.0,288.0 L490.0,292.0 L505.0,290.0 L520.0,287.0 L530.0,285.0 L545.0,282.0 L560.0,280.0 L573.0,283.0" fill="none" stroke="#1f7f1f" stroke-opacity="0.42" stroke-width="1.1"/>
<path d="M414.0,292.0 L425.0,290.0 L440.0,291.0 L460.0,294.0 L470.0,295.0" fill="none" stroke="#1f7f1f" stroke-opacity="0.42" stroke-width="1.1"/></g><text x="485.1" y="181.1" font-size="10" text-anchor="middle" textLength="16.8" lengthAdjust="spacingAndGlyphs" fill="#ff1a1a" stroke="#ff1a1a" stroke-width="0.15">315</text>
<text x="488.5" y="196.7" font-size="10" text-anchor="middle" textLength="16.8" lengthAdjust="spacingAndGlyphs" fill="#ff1a1a" stroke="#ff1a1a" stroke-width="0.15">312</text>
<text x="482.5" y="213.7" font-size="10" text-anchor="middle" textLength="16.8" lengthAdjust="spacingAndGlyphs" fill="#ff1a1a" stroke="#ff1a1a" stroke-width="0.15">310</text>
<text x="490.2" y="230.8" font-size="10" text-anchor="middle" textLength="16.8" lengthAdjust="spacingAndGlyphs" fill="#ff1a1a" stroke="#ff1a1a" stroke-width="0.15">308</text>
<text x="488.5" y="249.7" font-size="10" text-anchor="middle" textLength="16.8" lengthAdjust="spacingAndGlyphs" fill="#ff1a1a" stroke="#ff1a1a" stroke-width="0.15">305</text>
<text x="493.5" y="273.7" font-size="10" text-anchor="middle" textLength="16.8" lengthAdjust="spacingAndGlyphs" fill="#ff1a1a" stroke="#ff1a1a" stroke-width="0.15">302</text>
<text x="488.5" y="289.2" font-size="10" text-anchor="middle" textLength="16.8" lengthAdjust="spacingAndGlyphs" fill="#ff1a1a" stroke="#ff1a1a" stroke-width="0.15">300</text>
<text x="506.5" y="185.1" font-size="10" text-anchor="middle" textLength="11.2" lengthAdjust="spacingAndGlyphs" fill="#1f8a1f" stroke="#1f8a1f" stroke-width="0.15">12</text>
<text x="506.5" y="202.2" font-size="10" text-anchor="middle" textLength="11.2" lengthAdjust="spacingAndGlyphs" fill="#1f8a1f" stroke="#1f8a1f" stroke-width="0.15">13</text>
<text x="496.2" y="219.2" font-size="10" text-anchor="middle" textLength="11.2" lengthAdjust="spacingAndGlyphs" fill="#1f8a1f" stroke="#1f8a1f" stroke-width="0.15">14</text>
<text x="508.2" y="241.2" font-size="10" text-anchor="middle" textLength="11.2" lengthAdjust="spacingAndGlyphs" fill="#1f8a1f" stroke="#1f8a1f" stroke-width="0.15" transform="rotate(10,508.2,237.5)">15</text>
<text x="427.6" y="243.9" font-size="10" text-anchor="middle" textLength="11.2" lengthAdjust="spacingAndGlyphs" fill="#1f8a1f" stroke="#1f8a1f" stroke-width="0.15" transform="rotate(-60,427.6,240.2)">16</text>
<text x="515.1" y="284.7" font-size="10" text-anchor="middle" textLength="11.2" lengthAdjust="spacingAndGlyphs" fill="#1f8a1f" stroke="#1f8a1f" stroke-width="0.15" transform="rotate(-15,515.1,281.0)">17</text>
<text x="544.1" y="291.2" font-size="10" text-anchor="middle" textLength="11.2" lengthAdjust="spacingAndGlyphs" fill="#1f8a1f" stroke="#1f8a1f" stroke-width="0.15" transform="rotate(-10,544.1,287.5)">18</text>
<text x="462.0" y="284.4" font-size="10" text-anchor="middle" textLength="11.2" lengthAdjust="spacingAndGlyphs" fill="#1f8a1f" stroke="#1f8a1f" stroke-width="0.15" transform="rotate(40,462.0,280.7)">18</text>
<text x="439.6" y="290.3" font-size="10" text-anchor="middle" textLength="11.2" lengthAdjust="spacingAndGlyphs" fill="#1f8a1f" stroke="#1f8a1f" stroke-width="0.15">19</text>
</g>
<g transform="translate(414.0,171.7)">
<rect x="33.3" y="124.7" width="54.2" height="2.1" fill="#000"/>
<rect x="92.2" y="124.7" width="5.2" height="2.1" fill="#000"/>
<rect x="100.9" y="124.7" width="5.5" height="2.1" fill="#000"/>
<rect x="116.0" y="124.7" width="21.2" height="2.1" fill="#000"/>
<rect x="123.2" y="4.8" width="28.5" height="21.7" rx="1" fill="#fff" stroke="#333" stroke-width="1"/>
<text x="137.6" y="18.7" font-size="14" text-anchor="middle" textLength="19" lengthAdjust="spacingAndGlyphs" fill="#000">(f)</text>
<rect x="0" y="0" width="159.6" height="127.8" fill="none" stroke="#8c8c8c" stroke-width="1.3"/>
<line x1="0.70" y1="127.8" x2="0.70" y2="130.4" stroke="#444" stroke-width="0.9"/>
<line x1="55.60" y1="127.8" x2="55.60" y2="130.4" stroke="#444" stroke-width="0.9"/>
<line x1="110.50" y1="127.8" x2="110.50" y2="130.4" stroke="#444" stroke-width="0.9"/>
<line x1="0" y1="127.80" x2="-2.6" y2="127.80" stroke="#444" stroke-width="0.9"/>
<line x1="0" y1="88.80" x2="-2.6" y2="88.80" stroke="#444" stroke-width="0.9"/>
<line x1="0" y1="49.80" x2="-2.6" y2="49.80" stroke="#444" stroke-width="0.9"/>
<line x1="0" y1="10.80" x2="-2.6" y2="10.80" stroke="#444" stroke-width="0.9"/>
<text x="79.8" y="-3.6" font-size="17.2" text-anchor="middle" textLength="76" lengthAdjust="spacingAndGlyphs" fill="#000">GF 100%</text>
<text x="0.70" y="143.20" font-size="14.3" text-anchor="middle" textLength="8.9" lengthAdjust="spacingAndGlyphs" fill="#000">0</text>
<text x="55.60" y="143.20" font-size="14.3" text-anchor="middle" textLength="17.8" lengthAdjust="spacingAndGlyphs" fill="#000">25</text>
<text x="110.50" y="143.20" font-size="14.3" text-anchor="middle" textLength="17.8" lengthAdjust="spacingAndGlyphs" fill="#000">50</text>
<text x="79.3" y="158.70" font-size="14" text-anchor="middle" textLength="99.5" lengthAdjust="spacingAndGlyphs" fill="#000">Distance (km)</text>
</g>
<text transform="translate(11.6,82.3) rotate(-90)" x="0" y="0" font-size="14" text-anchor="middle" textLength="84.5" lengthAdjust="spacingAndGlyphs" fill="#000">Height (km)</text>
<text transform="translate(11.6,236.1) rotate(-90)" x="0" y="0" font-size="14" text-anchor="middle" textLength="84.5" lengthAdjust="spacingAndGlyphs" fill="#000">Height (km)</text>
<rect x="102.60" y="338.3" width="18.48" height="7.70" fill="#3f8ea6"/>
<rect x="120.78" y="338.3" width="18.48" height="7.70" fill="#44a6bf"/>
<rect x="138.95" y="338.3" width="18.48" height="7.70" fill="#48bcd4"/>
<rect x="157.13" y="338.3" width="18.48" height="7.70" fill="#48cfe6"/>
<rect x="175.30" y="338.3" width="18.48" height="7.70" fill="#44e2f4"/>
<rect x="193.48" y="338.3" width="18.48" height="7.70" fill="#40fbfb"/>
<rect x="211.66" y="338.3" width="18.48" height="7.70" fill="#66fbfb"/>
<rect x="229.83" y="338.3" width="18.48" height="7.70" fill="#8cfcfc"/>
<rect x="248.01" y="338.3" width="18.48" height="7.70" fill="#b3fdfd"/>
<rect x="266.19" y="338.3" width="18.48" height="7.70" fill="#d9fefe"/>
<rect x="284.36" y="338.3" width="18.48" height="7.70" fill="#ffffff"/>
<rect x="302.54" y="338.3" width="18.48" height="7.70" fill="#fcf43c"/>
<rect x="320.71" y="338.3" width="18.48" height="7.70" fill="#fcdc4a"/>
<rect x="338.89" y="338.3" width="18.48" height="7.70" fill="#fcc848"/>
<rect x="357.07" y="338.3" width="18.48" height="7.70" fill="#fcb040"/>
<rect x="375.24" y="338.3" width="18.48" height="7.70" fill="#fc9c3c"/>
<rect x="393.42" y="338.3" width="18.48" height="7.70" fill="#fc8a3a"/>
<rect x="411.60" y="338.3" width="18.48" height="7.70" fill="#fc6a40"/>
<rect x="429.77" y="338.3" width="18.48" height="7.70" fill="#f84c40"/>
<rect x="447.95" y="338.3" width="18.48" height="7.70" fill="#c84048"/>
<rect x="466.12" y="338.3" width="18.48" height="7.70" fill="#a04048"/>
<polygon points="102.6,338.3 84.3,342.15 102.6,346.0" fill="#3a98b4"/>
<polygon points="484.3,338.3 502.7,342.15 484.3,346.0" fill="#8e3034"/>
<polygon points="102.6,338.3 484.3,338.3 502.7,342.15 484.3,346.0 102.6,346.0 84.3,342.15" fill="none" stroke="#222" stroke-width="0.8"/>
<line x1="102.60" y1="346.0" x2="102.60" y2="348.6" stroke="#444" stroke-width="0.9"/>
<text x="101.60" y="361.40" font-size="14.3" text-anchor="middle" textLength="19.5" lengthAdjust="spacingAndGlyphs" fill="#000">−2</text>
<line x1="198.03" y1="346.0" x2="198.03" y2="348.6" stroke="#444" stroke-width="0.9"/>
<text x="197.03" y="361.40" font-size="14.3" text-anchor="middle" textLength="19.5" lengthAdjust="spacingAndGlyphs" fill="#000">−1</text>
<line x1="293.45" y1="346.0" x2="293.45" y2="348.6" stroke="#444" stroke-width="0.9"/>
<text x="293.45" y="361.40" font-size="14.3" text-anchor="middle" textLength="9.0" lengthAdjust="spacingAndGlyphs" fill="#000">0</text>
<line x1="388.88" y1="346.0" x2="388.88" y2="348.6" stroke="#444" stroke-width="0.9"/>
<text x="388.88" y="361.40" font-size="14.3" text-anchor="middle" textLength="9.0" lengthAdjust="spacingAndGlyphs" fill="#000">1</text>
<line x1="484.30" y1="346.0" x2="484.30" y2="348.6" stroke="#444" stroke-width="0.9"/>
<text x="484.30" y="361.40" font-size="14.3" text-anchor="middle" textLength="9.0" lengthAdjust="spacingAndGlyphs" fill="#000">2</text>
<text x="293.4" y="377.8" font-size="14.2" text-anchor="middle" textLength="159.5" lengthAdjust="spacingAndGlyphs" fill="#000">Vertical Velocity (m/s)</text>
</svg></body></html>
